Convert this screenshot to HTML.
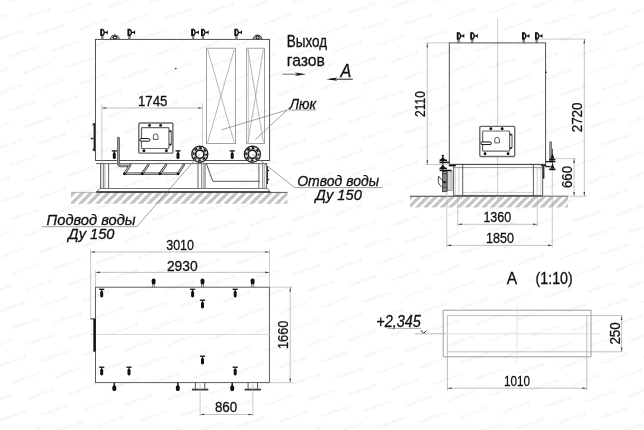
<!DOCTYPE html>
<html><head><meta charset="utf-8"><title>drawing</title>
<style>html,body{margin:0;padding:0;background:#fff;}svg{display:block;}body{font-family:"Liberation Sans",sans-serif;}</style></head>
<body>
<svg width="644" height="430" viewBox="0 0 644 430" style="will-change:transform" font-family="'Liberation Sans', sans-serif">
<rect width="644" height="430" fill="#fff"/>
<g font-size="4.6" fill="#ececec" text-anchor="middle">
<text transform="translate(-5.4 20.3) rotate(-20)" textLength="29" lengthAdjust="spacingAndGlyphs">kotel-kv.kz</text>
<text transform="translate(-4.7 74.6) rotate(-20)" textLength="29" lengthAdjust="spacingAndGlyphs">kotel-kv.kz</text>
<text transform="translate(-3.9 128.8) rotate(-20)" textLength="29" lengthAdjust="spacingAndGlyphs">kotel-kv.kz</text>
<text transform="translate(-17.5 166.8) rotate(-20)" textLength="29" lengthAdjust="spacingAndGlyphs">kotel-kv.kz</text>
<text transform="translate(-3.2 183.1) rotate(-20)" textLength="29" lengthAdjust="spacingAndGlyphs">kotel-kv.kz</text>
<text transform="translate(-16.8 221.1) rotate(-20)" textLength="29" lengthAdjust="spacingAndGlyphs">kotel-kv.kz</text>
<text transform="translate(-2.5 237.4) rotate(-20)" textLength="29" lengthAdjust="spacingAndGlyphs">kotel-kv.kz</text>
<text transform="translate(-16.0 275.4) rotate(-20)" textLength="29" lengthAdjust="spacingAndGlyphs">kotel-kv.kz</text>
<text transform="translate(-1.7 291.7) rotate(-20)" textLength="29" lengthAdjust="spacingAndGlyphs">kotel-kv.kz</text>
<text transform="translate(-15.3 329.7) rotate(-20)" textLength="29" lengthAdjust="spacingAndGlyphs">kotel-kv.kz</text>
<text transform="translate(-1.0 346.0) rotate(-20)" textLength="29" lengthAdjust="spacingAndGlyphs">kotel-kv.kz</text>
<text transform="translate(-14.5 384.0) rotate(-20)" textLength="29" lengthAdjust="spacingAndGlyphs">kotel-kv.kz</text>
<text transform="translate(-0.3 400.3) rotate(-20)" textLength="29" lengthAdjust="spacingAndGlyphs">kotel-kv.kz</text>
<text transform="translate(-13.7 438.3) rotate(-20)" textLength="29" lengthAdjust="spacingAndGlyphs">kotel-kv.kz</text>
<text transform="translate(22.7 -1.5) rotate(-20)" textLength="29" lengthAdjust="spacingAndGlyphs">kotel-kv.kz</text>
<text transform="translate(37.1 14.8) rotate(-20)" textLength="29" lengthAdjust="spacingAndGlyphs">kotel-kv.kz</text>
<text transform="translate(9.0 36.6) rotate(-20)" textLength="29" lengthAdjust="spacingAndGlyphs">kotel-kv.kz</text>
<text transform="translate(23.4 52.8) rotate(-20)" textLength="29" lengthAdjust="spacingAndGlyphs">kotel-kv.kz</text>
<text transform="translate(37.8 69.1) rotate(-20)" textLength="29" lengthAdjust="spacingAndGlyphs">kotel-kv.kz</text>
<text transform="translate(9.7 90.9) rotate(-20)" textLength="29" lengthAdjust="spacingAndGlyphs">kotel-kv.kz</text>
<text transform="translate(24.1 107.1) rotate(-20)" textLength="29" lengthAdjust="spacingAndGlyphs">kotel-kv.kz</text>
<text transform="translate(38.4 123.5) rotate(-20)" textLength="29" lengthAdjust="spacingAndGlyphs">kotel-kv.kz</text>
<text transform="translate(10.4 145.2) rotate(-20)" textLength="29" lengthAdjust="spacingAndGlyphs">kotel-kv.kz</text>
<text transform="translate(24.8 161.5) rotate(-20)" textLength="29" lengthAdjust="spacingAndGlyphs">kotel-kv.kz</text>
<text transform="translate(39.1 177.8) rotate(-20)" textLength="29" lengthAdjust="spacingAndGlyphs">kotel-kv.kz</text>
<text transform="translate(11.1 199.5) rotate(-20)" textLength="29" lengthAdjust="spacingAndGlyphs">kotel-kv.kz</text>
<text transform="translate(25.4 215.8) rotate(-20)" textLength="29" lengthAdjust="spacingAndGlyphs">kotel-kv.kz</text>
<text transform="translate(39.7 232.1) rotate(-20)" textLength="29" lengthAdjust="spacingAndGlyphs">kotel-kv.kz</text>
<text transform="translate(11.8 253.8) rotate(-20)" textLength="29" lengthAdjust="spacingAndGlyphs">kotel-kv.kz</text>
<text transform="translate(26.1 270.1) rotate(-20)" textLength="29" lengthAdjust="spacingAndGlyphs">kotel-kv.kz</text>
<text transform="translate(40.4 286.4) rotate(-20)" textLength="29" lengthAdjust="spacingAndGlyphs">kotel-kv.kz</text>
<text transform="translate(12.6 308.0) rotate(-20)" textLength="29" lengthAdjust="spacingAndGlyphs">kotel-kv.kz</text>
<text transform="translate(26.8 324.4) rotate(-20)" textLength="29" lengthAdjust="spacingAndGlyphs">kotel-kv.kz</text>
<text transform="translate(41.1 340.7) rotate(-20)" textLength="29" lengthAdjust="spacingAndGlyphs">kotel-kv.kz</text>
<text transform="translate(13.3 362.3) rotate(-20)" textLength="29" lengthAdjust="spacingAndGlyphs">kotel-kv.kz</text>
<text transform="translate(27.5 378.7) rotate(-20)" textLength="29" lengthAdjust="spacingAndGlyphs">kotel-kv.kz</text>
<text transform="translate(41.7 395.0) rotate(-20)" textLength="29" lengthAdjust="spacingAndGlyphs">kotel-kv.kz</text>
<text transform="translate(14.0 416.6) rotate(-20)" textLength="29" lengthAdjust="spacingAndGlyphs">kotel-kv.kz</text>
<text transform="translate(28.2 433.0) rotate(-20)" textLength="29" lengthAdjust="spacingAndGlyphs">kotel-kv.kz</text>
<text transform="translate(65.2 -6.9) rotate(-20)" textLength="29" lengthAdjust="spacingAndGlyphs">kotel-kv.kz</text>
<text transform="translate(79.6 9.4) rotate(-20)" textLength="29" lengthAdjust="spacingAndGlyphs">kotel-kv.kz</text>
<text transform="translate(51.5 31.1) rotate(-20)" textLength="29" lengthAdjust="spacingAndGlyphs">kotel-kv.kz</text>
<text transform="translate(65.8 47.4) rotate(-20)" textLength="29" lengthAdjust="spacingAndGlyphs">kotel-kv.kz</text>
<text transform="translate(80.2 63.7) rotate(-20)" textLength="29" lengthAdjust="spacingAndGlyphs">kotel-kv.kz</text>
<text transform="translate(52.1 85.4) rotate(-20)" textLength="29" lengthAdjust="spacingAndGlyphs">kotel-kv.kz</text>
<text transform="translate(66.4 101.7) rotate(-20)" textLength="29" lengthAdjust="spacingAndGlyphs">kotel-kv.kz</text>
<text transform="translate(80.7 118.1) rotate(-20)" textLength="29" lengthAdjust="spacingAndGlyphs">kotel-kv.kz</text>
<text transform="translate(52.7 139.8) rotate(-20)" textLength="29" lengthAdjust="spacingAndGlyphs">kotel-kv.kz</text>
<text transform="translate(67.0 156.1) rotate(-20)" textLength="29" lengthAdjust="spacingAndGlyphs">kotel-kv.kz</text>
<text transform="translate(81.3 172.4) rotate(-20)" textLength="29" lengthAdjust="spacingAndGlyphs">kotel-kv.kz</text>
<text transform="translate(53.4 194.1) rotate(-20)" textLength="29" lengthAdjust="spacingAndGlyphs">kotel-kv.kz</text>
<text transform="translate(67.7 210.4) rotate(-20)" textLength="29" lengthAdjust="spacingAndGlyphs">kotel-kv.kz</text>
<text transform="translate(81.9 226.7) rotate(-20)" textLength="29" lengthAdjust="spacingAndGlyphs">kotel-kv.kz</text>
<text transform="translate(54.0 248.4) rotate(-20)" textLength="29" lengthAdjust="spacingAndGlyphs">kotel-kv.kz</text>
<text transform="translate(68.3 264.7) rotate(-20)" textLength="29" lengthAdjust="spacingAndGlyphs">kotel-kv.kz</text>
<text transform="translate(82.5 281.1) rotate(-20)" textLength="29" lengthAdjust="spacingAndGlyphs">kotel-kv.kz</text>
<text transform="translate(54.7 302.7) rotate(-20)" textLength="29" lengthAdjust="spacingAndGlyphs">kotel-kv.kz</text>
<text transform="translate(68.9 319.1) rotate(-20)" textLength="29" lengthAdjust="spacingAndGlyphs">kotel-kv.kz</text>
<text transform="translate(83.1 335.4) rotate(-20)" textLength="29" lengthAdjust="spacingAndGlyphs">kotel-kv.kz</text>
<text transform="translate(55.3 357.1) rotate(-20)" textLength="29" lengthAdjust="spacingAndGlyphs">kotel-kv.kz</text>
<text transform="translate(69.5 373.4) rotate(-20)" textLength="29" lengthAdjust="spacingAndGlyphs">kotel-kv.kz</text>
<text transform="translate(83.7 389.8) rotate(-20)" textLength="29" lengthAdjust="spacingAndGlyphs">kotel-kv.kz</text>
<text transform="translate(55.9 411.4) rotate(-20)" textLength="29" lengthAdjust="spacingAndGlyphs">kotel-kv.kz</text>
<text transform="translate(70.1 427.7) rotate(-20)" textLength="29" lengthAdjust="spacingAndGlyphs">kotel-kv.kz</text>
<text transform="translate(122.0 3.9) rotate(-20)" textLength="29" lengthAdjust="spacingAndGlyphs">kotel-kv.kz</text>
<text transform="translate(93.9 25.7) rotate(-20)" textLength="29" lengthAdjust="spacingAndGlyphs">kotel-kv.kz</text>
<text transform="translate(108.2 42.0) rotate(-20)" textLength="29" lengthAdjust="spacingAndGlyphs">kotel-kv.kz</text>
<text transform="translate(122.6 58.3) rotate(-20)" textLength="29" lengthAdjust="spacingAndGlyphs">kotel-kv.kz</text>
<text transform="translate(94.5 80.0) rotate(-20)" textLength="29" lengthAdjust="spacingAndGlyphs">kotel-kv.kz</text>
<text transform="translate(108.8 96.3) rotate(-20)" textLength="29" lengthAdjust="spacingAndGlyphs">kotel-kv.kz</text>
<text transform="translate(123.1 112.7) rotate(-20)" textLength="29" lengthAdjust="spacingAndGlyphs">kotel-kv.kz</text>
<text transform="translate(95.1 134.4) rotate(-20)" textLength="29" lengthAdjust="spacingAndGlyphs">kotel-kv.kz</text>
<text transform="translate(109.3 150.7) rotate(-20)" textLength="29" lengthAdjust="spacingAndGlyphs">kotel-kv.kz</text>
<text transform="translate(123.6 167.0) rotate(-20)" textLength="29" lengthAdjust="spacingAndGlyphs">kotel-kv.kz</text>
<text transform="translate(95.6 188.7) rotate(-20)" textLength="29" lengthAdjust="spacingAndGlyphs">kotel-kv.kz</text>
<text transform="translate(109.9 205.1) rotate(-20)" textLength="29" lengthAdjust="spacingAndGlyphs">kotel-kv.kz</text>
<text transform="translate(124.1 221.4) rotate(-20)" textLength="29" lengthAdjust="spacingAndGlyphs">kotel-kv.kz</text>
<text transform="translate(96.2 243.1) rotate(-20)" textLength="29" lengthAdjust="spacingAndGlyphs">kotel-kv.kz</text>
<text transform="translate(110.4 259.4) rotate(-20)" textLength="29" lengthAdjust="spacingAndGlyphs">kotel-kv.kz</text>
<text transform="translate(124.7 275.8) rotate(-20)" textLength="29" lengthAdjust="spacingAndGlyphs">kotel-kv.kz</text>
<text transform="translate(96.8 297.4) rotate(-20)" textLength="29" lengthAdjust="spacingAndGlyphs">kotel-kv.kz</text>
<text transform="translate(111.0 313.8) rotate(-20)" textLength="29" lengthAdjust="spacingAndGlyphs">kotel-kv.kz</text>
<text transform="translate(125.2 330.1) rotate(-20)" textLength="29" lengthAdjust="spacingAndGlyphs">kotel-kv.kz</text>
<text transform="translate(97.3 351.8) rotate(-20)" textLength="29" lengthAdjust="spacingAndGlyphs">kotel-kv.kz</text>
<text transform="translate(111.5 368.1) rotate(-20)" textLength="29" lengthAdjust="spacingAndGlyphs">kotel-kv.kz</text>
<text transform="translate(125.7 384.5) rotate(-20)" textLength="29" lengthAdjust="spacingAndGlyphs">kotel-kv.kz</text>
<text transform="translate(97.9 406.1) rotate(-20)" textLength="29" lengthAdjust="spacingAndGlyphs">kotel-kv.kz</text>
<text transform="translate(112.1 422.5) rotate(-20)" textLength="29" lengthAdjust="spacingAndGlyphs">kotel-kv.kz</text>
<text transform="translate(126.2 438.9) rotate(-20)" textLength="29" lengthAdjust="spacingAndGlyphs">kotel-kv.kz</text>
<text transform="translate(164.5 -1.5) rotate(-20)" textLength="29" lengthAdjust="spacingAndGlyphs">kotel-kv.kz</text>
<text transform="translate(136.4 20.2) rotate(-20)" textLength="29" lengthAdjust="spacingAndGlyphs">kotel-kv.kz</text>
<text transform="translate(150.7 36.5) rotate(-20)" textLength="29" lengthAdjust="spacingAndGlyphs">kotel-kv.kz</text>
<text transform="translate(165.0 52.9) rotate(-20)" textLength="29" lengthAdjust="spacingAndGlyphs">kotel-kv.kz</text>
<text transform="translate(136.9 74.6) rotate(-20)" textLength="29" lengthAdjust="spacingAndGlyphs">kotel-kv.kz</text>
<text transform="translate(151.1 90.9) rotate(-20)" textLength="29" lengthAdjust="spacingAndGlyphs">kotel-kv.kz</text>
<text transform="translate(165.4 107.3) rotate(-20)" textLength="29" lengthAdjust="spacingAndGlyphs">kotel-kv.kz</text>
<text transform="translate(137.4 129.0) rotate(-20)" textLength="29" lengthAdjust="spacingAndGlyphs">kotel-kv.kz</text>
<text transform="translate(151.6 145.3) rotate(-20)" textLength="29" lengthAdjust="spacingAndGlyphs">kotel-kv.kz</text>
<text transform="translate(165.9 161.6) rotate(-20)" textLength="29" lengthAdjust="spacingAndGlyphs">kotel-kv.kz</text>
<text transform="translate(137.9 183.4) rotate(-20)" textLength="29" lengthAdjust="spacingAndGlyphs">kotel-kv.kz</text>
<text transform="translate(152.1 199.7) rotate(-20)" textLength="29" lengthAdjust="spacingAndGlyphs">kotel-kv.kz</text>
<text transform="translate(166.3 216.0) rotate(-20)" textLength="29" lengthAdjust="spacingAndGlyphs">kotel-kv.kz</text>
<text transform="translate(138.4 237.7) rotate(-20)" textLength="29" lengthAdjust="spacingAndGlyphs">kotel-kv.kz</text>
<text transform="translate(152.6 254.1) rotate(-20)" textLength="29" lengthAdjust="spacingAndGlyphs">kotel-kv.kz</text>
<text transform="translate(166.8 270.4) rotate(-20)" textLength="29" lengthAdjust="spacingAndGlyphs">kotel-kv.kz</text>
<text transform="translate(138.9 292.1) rotate(-20)" textLength="29" lengthAdjust="spacingAndGlyphs">kotel-kv.kz</text>
<text transform="translate(153.1 308.5) rotate(-20)" textLength="29" lengthAdjust="spacingAndGlyphs">kotel-kv.kz</text>
<text transform="translate(167.2 324.8) rotate(-20)" textLength="29" lengthAdjust="spacingAndGlyphs">kotel-kv.kz</text>
<text transform="translate(139.4 346.5) rotate(-20)" textLength="29" lengthAdjust="spacingAndGlyphs">kotel-kv.kz</text>
<text transform="translate(153.5 362.8) rotate(-20)" textLength="29" lengthAdjust="spacingAndGlyphs">kotel-kv.kz</text>
<text transform="translate(167.7 379.2) rotate(-20)" textLength="29" lengthAdjust="spacingAndGlyphs">kotel-kv.kz</text>
<text transform="translate(139.9 400.9) rotate(-20)" textLength="29" lengthAdjust="spacingAndGlyphs">kotel-kv.kz</text>
<text transform="translate(154.0 417.2) rotate(-20)" textLength="29" lengthAdjust="spacingAndGlyphs">kotel-kv.kz</text>
<text transform="translate(168.1 433.6) rotate(-20)" textLength="29" lengthAdjust="spacingAndGlyphs">kotel-kv.kz</text>
<text transform="translate(207.0 -7.0) rotate(-20)" textLength="29" lengthAdjust="spacingAndGlyphs">kotel-kv.kz</text>
<text transform="translate(178.8 14.8) rotate(-20)" textLength="29" lengthAdjust="spacingAndGlyphs">kotel-kv.kz</text>
<text transform="translate(193.1 31.1) rotate(-20)" textLength="29" lengthAdjust="spacingAndGlyphs">kotel-kv.kz</text>
<text transform="translate(207.4 47.4) rotate(-20)" textLength="29" lengthAdjust="spacingAndGlyphs">kotel-kv.kz</text>
<text transform="translate(179.2 69.2) rotate(-20)" textLength="29" lengthAdjust="spacingAndGlyphs">kotel-kv.kz</text>
<text transform="translate(193.5 85.5) rotate(-20)" textLength="29" lengthAdjust="spacingAndGlyphs">kotel-kv.kz</text>
<text transform="translate(207.7 101.9) rotate(-20)" textLength="29" lengthAdjust="spacingAndGlyphs">kotel-kv.kz</text>
<text transform="translate(179.7 123.6) rotate(-20)" textLength="29" lengthAdjust="spacingAndGlyphs">kotel-kv.kz</text>
<text transform="translate(193.9 139.9) rotate(-20)" textLength="29" lengthAdjust="spacingAndGlyphs">kotel-kv.kz</text>
<text transform="translate(208.1 156.3) rotate(-20)" textLength="29" lengthAdjust="spacingAndGlyphs">kotel-kv.kz</text>
<text transform="translate(180.1 178.0) rotate(-20)" textLength="29" lengthAdjust="spacingAndGlyphs">kotel-kv.kz</text>
<text transform="translate(194.3 194.3) rotate(-20)" textLength="29" lengthAdjust="spacingAndGlyphs">kotel-kv.kz</text>
<text transform="translate(208.5 210.7) rotate(-20)" textLength="29" lengthAdjust="spacingAndGlyphs">kotel-kv.kz</text>
<text transform="translate(180.5 232.4) rotate(-20)" textLength="29" lengthAdjust="spacingAndGlyphs">kotel-kv.kz</text>
<text transform="translate(194.7 248.7) rotate(-20)" textLength="29" lengthAdjust="spacingAndGlyphs">kotel-kv.kz</text>
<text transform="translate(208.9 265.1) rotate(-20)" textLength="29" lengthAdjust="spacingAndGlyphs">kotel-kv.kz</text>
<text transform="translate(181.0 286.8) rotate(-20)" textLength="29" lengthAdjust="spacingAndGlyphs">kotel-kv.kz</text>
<text transform="translate(195.1 303.2) rotate(-20)" textLength="29" lengthAdjust="spacingAndGlyphs">kotel-kv.kz</text>
<text transform="translate(209.3 319.5) rotate(-20)" textLength="29" lengthAdjust="spacingAndGlyphs">kotel-kv.kz</text>
<text transform="translate(181.4 341.2) rotate(-20)" textLength="29" lengthAdjust="spacingAndGlyphs">kotel-kv.kz</text>
<text transform="translate(195.5 357.6) rotate(-20)" textLength="29" lengthAdjust="spacingAndGlyphs">kotel-kv.kz</text>
<text transform="translate(209.7 373.9) rotate(-20)" textLength="29" lengthAdjust="spacingAndGlyphs">kotel-kv.kz</text>
<text transform="translate(181.8 395.6) rotate(-20)" textLength="29" lengthAdjust="spacingAndGlyphs">kotel-kv.kz</text>
<text transform="translate(195.9 412.0) rotate(-20)" textLength="29" lengthAdjust="spacingAndGlyphs">kotel-kv.kz</text>
<text transform="translate(210.0 428.4) rotate(-20)" textLength="29" lengthAdjust="spacingAndGlyphs">kotel-kv.kz</text>
<text transform="translate(221.3 9.3) rotate(-20)" textLength="29" lengthAdjust="spacingAndGlyphs">kotel-kv.kz</text>
<text transform="translate(235.5 25.7) rotate(-20)" textLength="29" lengthAdjust="spacingAndGlyphs">kotel-kv.kz</text>
<text transform="translate(249.8 42.0) rotate(-20)" textLength="29" lengthAdjust="spacingAndGlyphs">kotel-kv.kz</text>
<text transform="translate(221.6 63.8) rotate(-20)" textLength="29" lengthAdjust="spacingAndGlyphs">kotel-kv.kz</text>
<text transform="translate(235.9 80.1) rotate(-20)" textLength="29" lengthAdjust="spacingAndGlyphs">kotel-kv.kz</text>
<text transform="translate(250.1 96.5) rotate(-20)" textLength="29" lengthAdjust="spacingAndGlyphs">kotel-kv.kz</text>
<text transform="translate(222.0 118.2) rotate(-20)" textLength="29" lengthAdjust="spacingAndGlyphs">kotel-kv.kz</text>
<text transform="translate(236.2 134.5) rotate(-20)" textLength="29" lengthAdjust="spacingAndGlyphs">kotel-kv.kz</text>
<text transform="translate(250.4 150.9) rotate(-20)" textLength="29" lengthAdjust="spacingAndGlyphs">kotel-kv.kz</text>
<text transform="translate(222.3 172.6) rotate(-20)" textLength="29" lengthAdjust="spacingAndGlyphs">kotel-kv.kz</text>
<text transform="translate(236.5 189.0) rotate(-20)" textLength="29" lengthAdjust="spacingAndGlyphs">kotel-kv.kz</text>
<text transform="translate(250.7 205.3) rotate(-20)" textLength="29" lengthAdjust="spacingAndGlyphs">kotel-kv.kz</text>
<text transform="translate(222.7 227.1) rotate(-20)" textLength="29" lengthAdjust="spacingAndGlyphs">kotel-kv.kz</text>
<text transform="translate(236.9 243.4) rotate(-20)" textLength="29" lengthAdjust="spacingAndGlyphs">kotel-kv.kz</text>
<text transform="translate(251.0 259.8) rotate(-20)" textLength="29" lengthAdjust="spacingAndGlyphs">kotel-kv.kz</text>
<text transform="translate(223.1 281.5) rotate(-20)" textLength="29" lengthAdjust="spacingAndGlyphs">kotel-kv.kz</text>
<text transform="translate(237.2 297.9) rotate(-20)" textLength="29" lengthAdjust="spacingAndGlyphs">kotel-kv.kz</text>
<text transform="translate(251.3 314.2) rotate(-20)" textLength="29" lengthAdjust="spacingAndGlyphs">kotel-kv.kz</text>
<text transform="translate(223.4 335.9) rotate(-20)" textLength="29" lengthAdjust="spacingAndGlyphs">kotel-kv.kz</text>
<text transform="translate(237.5 352.3) rotate(-20)" textLength="29" lengthAdjust="spacingAndGlyphs">kotel-kv.kz</text>
<text transform="translate(251.6 368.7) rotate(-20)" textLength="29" lengthAdjust="spacingAndGlyphs">kotel-kv.kz</text>
<text transform="translate(223.8 390.3) rotate(-20)" textLength="29" lengthAdjust="spacingAndGlyphs">kotel-kv.kz</text>
<text transform="translate(237.9 406.7) rotate(-20)" textLength="29" lengthAdjust="spacingAndGlyphs">kotel-kv.kz</text>
<text transform="translate(252.0 423.1) rotate(-20)" textLength="29" lengthAdjust="spacingAndGlyphs">kotel-kv.kz</text>
<text transform="translate(263.7 3.9) rotate(-20)" textLength="29" lengthAdjust="spacingAndGlyphs">kotel-kv.kz</text>
<text transform="translate(277.9 20.2) rotate(-20)" textLength="29" lengthAdjust="spacingAndGlyphs">kotel-kv.kz</text>
<text transform="translate(292.2 36.6) rotate(-20)" textLength="29" lengthAdjust="spacingAndGlyphs">kotel-kv.kz</text>
<text transform="translate(264.0 58.3) rotate(-20)" textLength="29" lengthAdjust="spacingAndGlyphs">kotel-kv.kz</text>
<text transform="translate(278.2 74.7) rotate(-20)" textLength="29" lengthAdjust="spacingAndGlyphs">kotel-kv.kz</text>
<text transform="translate(292.4 91.1) rotate(-20)" textLength="29" lengthAdjust="spacingAndGlyphs">kotel-kv.kz</text>
<text transform="translate(264.3 112.8) rotate(-20)" textLength="29" lengthAdjust="spacingAndGlyphs">kotel-kv.kz</text>
<text transform="translate(278.5 129.2) rotate(-20)" textLength="29" lengthAdjust="spacingAndGlyphs">kotel-kv.kz</text>
<text transform="translate(292.7 145.5) rotate(-20)" textLength="29" lengthAdjust="spacingAndGlyphs">kotel-kv.kz</text>
<text transform="translate(264.6 167.3) rotate(-20)" textLength="29" lengthAdjust="spacingAndGlyphs">kotel-kv.kz</text>
<text transform="translate(278.7 183.6) rotate(-20)" textLength="29" lengthAdjust="spacingAndGlyphs">kotel-kv.kz</text>
<text transform="translate(292.9 200.0) rotate(-20)" textLength="29" lengthAdjust="spacingAndGlyphs">kotel-kv.kz</text>
<text transform="translate(264.9 221.7) rotate(-20)" textLength="29" lengthAdjust="spacingAndGlyphs">kotel-kv.kz</text>
<text transform="translate(279.0 238.1) rotate(-20)" textLength="29" lengthAdjust="spacingAndGlyphs">kotel-kv.kz</text>
<text transform="translate(293.1 254.5) rotate(-20)" textLength="29" lengthAdjust="spacingAndGlyphs">kotel-kv.kz</text>
<text transform="translate(265.2 276.2) rotate(-20)" textLength="29" lengthAdjust="spacingAndGlyphs">kotel-kv.kz</text>
<text transform="translate(279.3 292.5) rotate(-20)" textLength="29" lengthAdjust="spacingAndGlyphs">kotel-kv.kz</text>
<text transform="translate(293.4 308.9) rotate(-20)" textLength="29" lengthAdjust="spacingAndGlyphs">kotel-kv.kz</text>
<text transform="translate(265.5 330.6) rotate(-20)" textLength="29" lengthAdjust="spacingAndGlyphs">kotel-kv.kz</text>
<text transform="translate(279.5 347.0) rotate(-20)" textLength="29" lengthAdjust="spacingAndGlyphs">kotel-kv.kz</text>
<text transform="translate(293.6 363.4) rotate(-20)" textLength="29" lengthAdjust="spacingAndGlyphs">kotel-kv.kz</text>
<text transform="translate(265.7 385.1) rotate(-20)" textLength="29" lengthAdjust="spacingAndGlyphs">kotel-kv.kz</text>
<text transform="translate(279.8 401.5) rotate(-20)" textLength="29" lengthAdjust="spacingAndGlyphs">kotel-kv.kz</text>
<text transform="translate(293.9 417.9) rotate(-20)" textLength="29" lengthAdjust="spacingAndGlyphs">kotel-kv.kz</text>
<text transform="translate(266.0 439.5) rotate(-20)" textLength="29" lengthAdjust="spacingAndGlyphs">kotel-kv.kz</text>
<text transform="translate(306.2 -1.5) rotate(-20)" textLength="29" lengthAdjust="spacingAndGlyphs">kotel-kv.kz</text>
<text transform="translate(320.4 14.8) rotate(-20)" textLength="29" lengthAdjust="spacingAndGlyphs">kotel-kv.kz</text>
<text transform="translate(334.6 31.2) rotate(-20)" textLength="29" lengthAdjust="spacingAndGlyphs">kotel-kv.kz</text>
<text transform="translate(306.4 52.9) rotate(-20)" textLength="29" lengthAdjust="spacingAndGlyphs">kotel-kv.kz</text>
<text transform="translate(320.6 69.3) rotate(-20)" textLength="29" lengthAdjust="spacingAndGlyphs">kotel-kv.kz</text>
<text transform="translate(334.7 85.7) rotate(-20)" textLength="29" lengthAdjust="spacingAndGlyphs">kotel-kv.kz</text>
<text transform="translate(306.6 107.4) rotate(-20)" textLength="29" lengthAdjust="spacingAndGlyphs">kotel-kv.kz</text>
<text transform="translate(320.8 123.8) rotate(-20)" textLength="29" lengthAdjust="spacingAndGlyphs">kotel-kv.kz</text>
<text transform="translate(334.9 140.1) rotate(-20)" textLength="29" lengthAdjust="spacingAndGlyphs">kotel-kv.kz</text>
<text transform="translate(306.8 161.9) rotate(-20)" textLength="29" lengthAdjust="spacingAndGlyphs">kotel-kv.kz</text>
<text transform="translate(321.0 178.3) rotate(-20)" textLength="29" lengthAdjust="spacingAndGlyphs">kotel-kv.kz</text>
<text transform="translate(335.1 194.6) rotate(-20)" textLength="29" lengthAdjust="spacingAndGlyphs">kotel-kv.kz</text>
<text transform="translate(307.0 216.4) rotate(-20)" textLength="29" lengthAdjust="spacingAndGlyphs">kotel-kv.kz</text>
<text transform="translate(321.2 232.8) rotate(-20)" textLength="29" lengthAdjust="spacingAndGlyphs">kotel-kv.kz</text>
<text transform="translate(335.3 249.1) rotate(-20)" textLength="29" lengthAdjust="spacingAndGlyphs">kotel-kv.kz</text>
<text transform="translate(307.3 270.8) rotate(-20)" textLength="29" lengthAdjust="spacingAndGlyphs">kotel-kv.kz</text>
<text transform="translate(321.4 287.2) rotate(-20)" textLength="29" lengthAdjust="spacingAndGlyphs">kotel-kv.kz</text>
<text transform="translate(335.4 303.6) rotate(-20)" textLength="29" lengthAdjust="spacingAndGlyphs">kotel-kv.kz</text>
<text transform="translate(307.5 325.3) rotate(-20)" textLength="29" lengthAdjust="spacingAndGlyphs">kotel-kv.kz</text>
<text transform="translate(321.6 341.7) rotate(-20)" textLength="29" lengthAdjust="spacingAndGlyphs">kotel-kv.kz</text>
<text transform="translate(335.6 358.1) rotate(-20)" textLength="29" lengthAdjust="spacingAndGlyphs">kotel-kv.kz</text>
<text transform="translate(307.7 379.8) rotate(-20)" textLength="29" lengthAdjust="spacingAndGlyphs">kotel-kv.kz</text>
<text transform="translate(321.8 396.2) rotate(-20)" textLength="29" lengthAdjust="spacingAndGlyphs">kotel-kv.kz</text>
<text transform="translate(335.8 412.6) rotate(-20)" textLength="29" lengthAdjust="spacingAndGlyphs">kotel-kv.kz</text>
<text transform="translate(307.9 434.3) rotate(-20)" textLength="29" lengthAdjust="spacingAndGlyphs">kotel-kv.kz</text>
<text transform="translate(348.6 -7.0) rotate(-20)" textLength="29" lengthAdjust="spacingAndGlyphs">kotel-kv.kz</text>
<text transform="translate(362.8 9.4) rotate(-20)" textLength="29" lengthAdjust="spacingAndGlyphs">kotel-kv.kz</text>
<text transform="translate(377.0 25.7) rotate(-20)" textLength="29" lengthAdjust="spacingAndGlyphs">kotel-kv.kz</text>
<text transform="translate(348.8 47.5) rotate(-20)" textLength="29" lengthAdjust="spacingAndGlyphs">kotel-kv.kz</text>
<text transform="translate(362.9 63.9) rotate(-20)" textLength="29" lengthAdjust="spacingAndGlyphs">kotel-kv.kz</text>
<text transform="translate(377.1 80.3) rotate(-20)" textLength="29" lengthAdjust="spacingAndGlyphs">kotel-kv.kz</text>
<text transform="translate(348.9 102.0) rotate(-20)" textLength="29" lengthAdjust="spacingAndGlyphs">kotel-kv.kz</text>
<text transform="translate(363.1 118.4) rotate(-20)" textLength="29" lengthAdjust="spacingAndGlyphs">kotel-kv.kz</text>
<text transform="translate(377.2 134.8) rotate(-20)" textLength="29" lengthAdjust="spacingAndGlyphs">kotel-kv.kz</text>
<text transform="translate(349.1 156.5) rotate(-20)" textLength="29" lengthAdjust="spacingAndGlyphs">kotel-kv.kz</text>
<text transform="translate(363.2 172.9) rotate(-20)" textLength="29" lengthAdjust="spacingAndGlyphs">kotel-kv.kz</text>
<text transform="translate(377.3 189.3) rotate(-20)" textLength="29" lengthAdjust="spacingAndGlyphs">kotel-kv.kz</text>
<text transform="translate(349.2 211.0) rotate(-20)" textLength="29" lengthAdjust="spacingAndGlyphs">kotel-kv.kz</text>
<text transform="translate(363.3 227.4) rotate(-20)" textLength="29" lengthAdjust="spacingAndGlyphs">kotel-kv.kz</text>
<text transform="translate(377.4 243.8) rotate(-20)" textLength="29" lengthAdjust="spacingAndGlyphs">kotel-kv.kz</text>
<text transform="translate(349.4 265.5) rotate(-20)" textLength="29" lengthAdjust="spacingAndGlyphs">kotel-kv.kz</text>
<text transform="translate(363.4 281.9) rotate(-20)" textLength="29" lengthAdjust="spacingAndGlyphs">kotel-kv.kz</text>
<text transform="translate(377.5 298.3) rotate(-20)" textLength="29" lengthAdjust="spacingAndGlyphs">kotel-kv.kz</text>
<text transform="translate(349.5 320.0) rotate(-20)" textLength="29" lengthAdjust="spacingAndGlyphs">kotel-kv.kz</text>
<text transform="translate(363.6 336.4) rotate(-20)" textLength="29" lengthAdjust="spacingAndGlyphs">kotel-kv.kz</text>
<text transform="translate(377.6 352.9) rotate(-20)" textLength="29" lengthAdjust="spacingAndGlyphs">kotel-kv.kz</text>
<text transform="translate(349.7 374.5) rotate(-20)" textLength="29" lengthAdjust="spacingAndGlyphs">kotel-kv.kz</text>
<text transform="translate(363.7 391.0) rotate(-20)" textLength="29" lengthAdjust="spacingAndGlyphs">kotel-kv.kz</text>
<text transform="translate(377.7 407.4) rotate(-20)" textLength="29" lengthAdjust="spacingAndGlyphs">kotel-kv.kz</text>
<text transform="translate(349.8 429.1) rotate(-20)" textLength="29" lengthAdjust="spacingAndGlyphs">kotel-kv.kz</text>
<text transform="translate(405.2 3.9) rotate(-20)" textLength="29" lengthAdjust="spacingAndGlyphs">kotel-kv.kz</text>
<text transform="translate(419.4 20.3) rotate(-20)" textLength="29" lengthAdjust="spacingAndGlyphs">kotel-kv.kz</text>
<text transform="translate(391.1 42.1) rotate(-20)" textLength="29" lengthAdjust="spacingAndGlyphs">kotel-kv.kz</text>
<text transform="translate(405.3 58.5) rotate(-20)" textLength="29" lengthAdjust="spacingAndGlyphs">kotel-kv.kz</text>
<text transform="translate(419.4 74.9) rotate(-20)" textLength="29" lengthAdjust="spacingAndGlyphs">kotel-kv.kz</text>
<text transform="translate(391.2 96.6) rotate(-20)" textLength="29" lengthAdjust="spacingAndGlyphs">kotel-kv.kz</text>
<text transform="translate(405.3 113.0) rotate(-20)" textLength="29" lengthAdjust="spacingAndGlyphs">kotel-kv.kz</text>
<text transform="translate(419.4 129.4) rotate(-20)" textLength="29" lengthAdjust="spacingAndGlyphs">kotel-kv.kz</text>
<text transform="translate(391.3 151.2) rotate(-20)" textLength="29" lengthAdjust="spacingAndGlyphs">kotel-kv.kz</text>
<text transform="translate(405.4 167.6) rotate(-20)" textLength="29" lengthAdjust="spacingAndGlyphs">kotel-kv.kz</text>
<text transform="translate(419.5 183.9) rotate(-20)" textLength="29" lengthAdjust="spacingAndGlyphs">kotel-kv.kz</text>
<text transform="translate(391.4 205.7) rotate(-20)" textLength="29" lengthAdjust="spacingAndGlyphs">kotel-kv.kz</text>
<text transform="translate(405.5 222.1) rotate(-20)" textLength="29" lengthAdjust="spacingAndGlyphs">kotel-kv.kz</text>
<text transform="translate(419.5 238.5) rotate(-20)" textLength="29" lengthAdjust="spacingAndGlyphs">kotel-kv.kz</text>
<text transform="translate(391.5 260.2) rotate(-20)" textLength="29" lengthAdjust="spacingAndGlyphs">kotel-kv.kz</text>
<text transform="translate(405.5 276.6) rotate(-20)" textLength="29" lengthAdjust="spacingAndGlyphs">kotel-kv.kz</text>
<text transform="translate(419.5 293.0) rotate(-20)" textLength="29" lengthAdjust="spacingAndGlyphs">kotel-kv.kz</text>
<text transform="translate(391.5 314.8) rotate(-20)" textLength="29" lengthAdjust="spacingAndGlyphs">kotel-kv.kz</text>
<text transform="translate(405.6 331.2) rotate(-20)" textLength="29" lengthAdjust="spacingAndGlyphs">kotel-kv.kz</text>
<text transform="translate(419.6 347.6) rotate(-20)" textLength="29" lengthAdjust="spacingAndGlyphs">kotel-kv.kz</text>
<text transform="translate(391.6 369.3) rotate(-20)" textLength="29" lengthAdjust="spacingAndGlyphs">kotel-kv.kz</text>
<text transform="translate(405.6 385.7) rotate(-20)" textLength="29" lengthAdjust="spacingAndGlyphs">kotel-kv.kz</text>
<text transform="translate(419.6 402.1) rotate(-20)" textLength="29" lengthAdjust="spacingAndGlyphs">kotel-kv.kz</text>
<text transform="translate(391.7 423.8) rotate(-20)" textLength="29" lengthAdjust="spacingAndGlyphs">kotel-kv.kz</text>
<text transform="translate(447.7 -1.5) rotate(-20)" textLength="29" lengthAdjust="spacingAndGlyphs">kotel-kv.kz</text>
<text transform="translate(461.8 14.9) rotate(-20)" textLength="29" lengthAdjust="spacingAndGlyphs">kotel-kv.kz</text>
<text transform="translate(433.5 36.7) rotate(-20)" textLength="29" lengthAdjust="spacingAndGlyphs">kotel-kv.kz</text>
<text transform="translate(447.6 53.1) rotate(-20)" textLength="29" lengthAdjust="spacingAndGlyphs">kotel-kv.kz</text>
<text transform="translate(461.7 69.5) rotate(-20)" textLength="29" lengthAdjust="spacingAndGlyphs">kotel-kv.kz</text>
<text transform="translate(433.5 91.2) rotate(-20)" textLength="29" lengthAdjust="spacingAndGlyphs">kotel-kv.kz</text>
<text transform="translate(447.6 107.6) rotate(-20)" textLength="29" lengthAdjust="spacingAndGlyphs">kotel-kv.kz</text>
<text transform="translate(461.7 124.0) rotate(-20)" textLength="29" lengthAdjust="spacingAndGlyphs">kotel-kv.kz</text>
<text transform="translate(433.5 145.8) rotate(-20)" textLength="29" lengthAdjust="spacingAndGlyphs">kotel-kv.kz</text>
<text transform="translate(447.6 162.2) rotate(-20)" textLength="29" lengthAdjust="spacingAndGlyphs">kotel-kv.kz</text>
<text transform="translate(461.7 178.6) rotate(-20)" textLength="29" lengthAdjust="spacingAndGlyphs">kotel-kv.kz</text>
<text transform="translate(433.6 200.3) rotate(-20)" textLength="29" lengthAdjust="spacingAndGlyphs">kotel-kv.kz</text>
<text transform="translate(447.6 216.8) rotate(-20)" textLength="29" lengthAdjust="spacingAndGlyphs">kotel-kv.kz</text>
<text transform="translate(461.6 233.2) rotate(-20)" textLength="29" lengthAdjust="spacingAndGlyphs">kotel-kv.kz</text>
<text transform="translate(433.6 254.9) rotate(-20)" textLength="29" lengthAdjust="spacingAndGlyphs">kotel-kv.kz</text>
<text transform="translate(447.6 271.3) rotate(-20)" textLength="29" lengthAdjust="spacingAndGlyphs">kotel-kv.kz</text>
<text transform="translate(461.6 287.7) rotate(-20)" textLength="29" lengthAdjust="spacingAndGlyphs">kotel-kv.kz</text>
<text transform="translate(433.6 309.5) rotate(-20)" textLength="29" lengthAdjust="spacingAndGlyphs">kotel-kv.kz</text>
<text transform="translate(447.6 325.9) rotate(-20)" textLength="29" lengthAdjust="spacingAndGlyphs">kotel-kv.kz</text>
<text transform="translate(461.6 342.3) rotate(-20)" textLength="29" lengthAdjust="spacingAndGlyphs">kotel-kv.kz</text>
<text transform="translate(433.6 364.0) rotate(-20)" textLength="29" lengthAdjust="spacingAndGlyphs">kotel-kv.kz</text>
<text transform="translate(447.6 380.5) rotate(-20)" textLength="29" lengthAdjust="spacingAndGlyphs">kotel-kv.kz</text>
<text transform="translate(461.5 396.9) rotate(-20)" textLength="29" lengthAdjust="spacingAndGlyphs">kotel-kv.kz</text>
<text transform="translate(433.6 418.6) rotate(-20)" textLength="29" lengthAdjust="spacingAndGlyphs">kotel-kv.kz</text>
<text transform="translate(447.5 435.0) rotate(-20)" textLength="29" lengthAdjust="spacingAndGlyphs">kotel-kv.kz</text>
<text transform="translate(490.1 -6.9) rotate(-20)" textLength="29" lengthAdjust="spacingAndGlyphs">kotel-kv.kz</text>
<text transform="translate(504.2 9.5) rotate(-20)" textLength="29" lengthAdjust="spacingAndGlyphs">kotel-kv.kz</text>
<text transform="translate(475.9 31.3) rotate(-20)" textLength="29" lengthAdjust="spacingAndGlyphs">kotel-kv.kz</text>
<text transform="translate(490.0 47.7) rotate(-20)" textLength="29" lengthAdjust="spacingAndGlyphs">kotel-kv.kz</text>
<text transform="translate(504.1 64.1) rotate(-20)" textLength="29" lengthAdjust="spacingAndGlyphs">kotel-kv.kz</text>
<text transform="translate(475.8 85.8) rotate(-20)" textLength="29" lengthAdjust="spacingAndGlyphs">kotel-kv.kz</text>
<text transform="translate(489.9 102.2) rotate(-20)" textLength="29" lengthAdjust="spacingAndGlyphs">kotel-kv.kz</text>
<text transform="translate(504.0 118.7) rotate(-20)" textLength="29" lengthAdjust="spacingAndGlyphs">kotel-kv.kz</text>
<text transform="translate(475.8 140.4) rotate(-20)" textLength="29" lengthAdjust="spacingAndGlyphs">kotel-kv.kz</text>
<text transform="translate(489.8 156.8) rotate(-20)" textLength="29" lengthAdjust="spacingAndGlyphs">kotel-kv.kz</text>
<text transform="translate(503.9 173.3) rotate(-20)" textLength="29" lengthAdjust="spacingAndGlyphs">kotel-kv.kz</text>
<text transform="translate(475.7 195.0) rotate(-20)" textLength="29" lengthAdjust="spacingAndGlyphs">kotel-kv.kz</text>
<text transform="translate(489.7 211.4) rotate(-20)" textLength="29" lengthAdjust="spacingAndGlyphs">kotel-kv.kz</text>
<text transform="translate(503.8 227.8) rotate(-20)" textLength="29" lengthAdjust="spacingAndGlyphs">kotel-kv.kz</text>
<text transform="translate(475.7 249.6) rotate(-20)" textLength="29" lengthAdjust="spacingAndGlyphs">kotel-kv.kz</text>
<text transform="translate(489.7 266.0) rotate(-20)" textLength="29" lengthAdjust="spacingAndGlyphs">kotel-kv.kz</text>
<text transform="translate(503.7 282.4) rotate(-20)" textLength="29" lengthAdjust="spacingAndGlyphs">kotel-kv.kz</text>
<text transform="translate(475.6 304.2) rotate(-20)" textLength="29" lengthAdjust="spacingAndGlyphs">kotel-kv.kz</text>
<text transform="translate(489.6 320.6) rotate(-20)" textLength="29" lengthAdjust="spacingAndGlyphs">kotel-kv.kz</text>
<text transform="translate(503.5 337.0) rotate(-20)" textLength="29" lengthAdjust="spacingAndGlyphs">kotel-kv.kz</text>
<text transform="translate(475.5 358.8) rotate(-20)" textLength="29" lengthAdjust="spacingAndGlyphs">kotel-kv.kz</text>
<text transform="translate(489.5 375.2) rotate(-20)" textLength="29" lengthAdjust="spacingAndGlyphs">kotel-kv.kz</text>
<text transform="translate(503.4 391.6) rotate(-20)" textLength="29" lengthAdjust="spacingAndGlyphs">kotel-kv.kz</text>
<text transform="translate(475.5 413.3) rotate(-20)" textLength="29" lengthAdjust="spacingAndGlyphs">kotel-kv.kz</text>
<text transform="translate(489.4 429.8) rotate(-20)" textLength="29" lengthAdjust="spacingAndGlyphs">kotel-kv.kz</text>
<text transform="translate(546.6 4.0) rotate(-20)" textLength="29" lengthAdjust="spacingAndGlyphs">kotel-kv.kz</text>
<text transform="translate(518.3 25.8) rotate(-20)" textLength="29" lengthAdjust="spacingAndGlyphs">kotel-kv.kz</text>
<text transform="translate(532.4 42.2) rotate(-20)" textLength="29" lengthAdjust="spacingAndGlyphs">kotel-kv.kz</text>
<text transform="translate(546.4 58.7) rotate(-20)" textLength="29" lengthAdjust="spacingAndGlyphs">kotel-kv.kz</text>
<text transform="translate(518.2 80.5) rotate(-20)" textLength="29" lengthAdjust="spacingAndGlyphs">kotel-kv.kz</text>
<text transform="translate(532.2 96.9) rotate(-20)" textLength="29" lengthAdjust="spacingAndGlyphs">kotel-kv.kz</text>
<text transform="translate(546.2 113.3) rotate(-20)" textLength="29" lengthAdjust="spacingAndGlyphs">kotel-kv.kz</text>
<text transform="translate(518.0 135.1) rotate(-20)" textLength="29" lengthAdjust="spacingAndGlyphs">kotel-kv.kz</text>
<text transform="translate(532.0 151.5) rotate(-20)" textLength="29" lengthAdjust="spacingAndGlyphs">kotel-kv.kz</text>
<text transform="translate(546.1 167.9) rotate(-20)" textLength="29" lengthAdjust="spacingAndGlyphs">kotel-kv.kz</text>
<text transform="translate(517.9 189.7) rotate(-20)" textLength="29" lengthAdjust="spacingAndGlyphs">kotel-kv.kz</text>
<text transform="translate(531.9 206.1) rotate(-20)" textLength="29" lengthAdjust="spacingAndGlyphs">kotel-kv.kz</text>
<text transform="translate(545.9 222.5) rotate(-20)" textLength="29" lengthAdjust="spacingAndGlyphs">kotel-kv.kz</text>
<text transform="translate(517.8 244.3) rotate(-20)" textLength="29" lengthAdjust="spacingAndGlyphs">kotel-kv.kz</text>
<text transform="translate(531.7 260.7) rotate(-20)" textLength="29" lengthAdjust="spacingAndGlyphs">kotel-kv.kz</text>
<text transform="translate(545.7 277.2) rotate(-20)" textLength="29" lengthAdjust="spacingAndGlyphs">kotel-kv.kz</text>
<text transform="translate(517.6 298.9) rotate(-20)" textLength="29" lengthAdjust="spacingAndGlyphs">kotel-kv.kz</text>
<text transform="translate(531.6 315.3) rotate(-20)" textLength="29" lengthAdjust="spacingAndGlyphs">kotel-kv.kz</text>
<text transform="translate(545.5 331.8) rotate(-20)" textLength="29" lengthAdjust="spacingAndGlyphs">kotel-kv.kz</text>
<text transform="translate(517.5 353.5) rotate(-20)" textLength="29" lengthAdjust="spacingAndGlyphs">kotel-kv.kz</text>
<text transform="translate(531.4 369.9) rotate(-20)" textLength="29" lengthAdjust="spacingAndGlyphs">kotel-kv.kz</text>
<text transform="translate(545.4 386.4) rotate(-20)" textLength="29" lengthAdjust="spacingAndGlyphs">kotel-kv.kz</text>
<text transform="translate(517.4 408.1) rotate(-20)" textLength="29" lengthAdjust="spacingAndGlyphs">kotel-kv.kz</text>
<text transform="translate(531.3 424.6) rotate(-20)" textLength="29" lengthAdjust="spacingAndGlyphs">kotel-kv.kz</text>
<text transform="translate(589.0 -1.4) rotate(-20)" textLength="29" lengthAdjust="spacingAndGlyphs">kotel-kv.kz</text>
<text transform="translate(560.7 20.4) rotate(-20)" textLength="29" lengthAdjust="spacingAndGlyphs">kotel-kv.kz</text>
<text transform="translate(574.7 36.8) rotate(-20)" textLength="29" lengthAdjust="spacingAndGlyphs">kotel-kv.kz</text>
<text transform="translate(588.7 53.3) rotate(-20)" textLength="29" lengthAdjust="spacingAndGlyphs">kotel-kv.kz</text>
<text transform="translate(560.5 75.1) rotate(-20)" textLength="29" lengthAdjust="spacingAndGlyphs">kotel-kv.kz</text>
<text transform="translate(574.5 91.5) rotate(-20)" textLength="29" lengthAdjust="spacingAndGlyphs">kotel-kv.kz</text>
<text transform="translate(588.5 107.9) rotate(-20)" textLength="29" lengthAdjust="spacingAndGlyphs">kotel-kv.kz</text>
<text transform="translate(560.3 129.7) rotate(-20)" textLength="29" lengthAdjust="spacingAndGlyphs">kotel-kv.kz</text>
<text transform="translate(574.3 146.1) rotate(-20)" textLength="29" lengthAdjust="spacingAndGlyphs">kotel-kv.kz</text>
<text transform="translate(588.3 162.6) rotate(-20)" textLength="29" lengthAdjust="spacingAndGlyphs">kotel-kv.kz</text>
<text transform="translate(560.1 184.3) rotate(-20)" textLength="29" lengthAdjust="spacingAndGlyphs">kotel-kv.kz</text>
<text transform="translate(574.0 200.8) rotate(-20)" textLength="29" lengthAdjust="spacingAndGlyphs">kotel-kv.kz</text>
<text transform="translate(588.0 217.2) rotate(-20)" textLength="29" lengthAdjust="spacingAndGlyphs">kotel-kv.kz</text>
<text transform="translate(559.9 239.0) rotate(-20)" textLength="29" lengthAdjust="spacingAndGlyphs">kotel-kv.kz</text>
<text transform="translate(573.8 255.4) rotate(-20)" textLength="29" lengthAdjust="spacingAndGlyphs">kotel-kv.kz</text>
<text transform="translate(587.8 271.9) rotate(-20)" textLength="29" lengthAdjust="spacingAndGlyphs">kotel-kv.kz</text>
<text transform="translate(559.7 293.6) rotate(-20)" textLength="29" lengthAdjust="spacingAndGlyphs">kotel-kv.kz</text>
<text transform="translate(573.6 310.0) rotate(-20)" textLength="29" lengthAdjust="spacingAndGlyphs">kotel-kv.kz</text>
<text transform="translate(587.5 326.5) rotate(-20)" textLength="29" lengthAdjust="spacingAndGlyphs">kotel-kv.kz</text>
<text transform="translate(559.5 348.2) rotate(-20)" textLength="29" lengthAdjust="spacingAndGlyphs">kotel-kv.kz</text>
<text transform="translate(573.4 364.7) rotate(-20)" textLength="29" lengthAdjust="spacingAndGlyphs">kotel-kv.kz</text>
<text transform="translate(587.3 381.2) rotate(-20)" textLength="29" lengthAdjust="spacingAndGlyphs">kotel-kv.kz</text>
<text transform="translate(559.3 402.9) rotate(-20)" textLength="29" lengthAdjust="spacingAndGlyphs">kotel-kv.kz</text>
<text transform="translate(573.1 419.3) rotate(-20)" textLength="29" lengthAdjust="spacingAndGlyphs">kotel-kv.kz</text>
<text transform="translate(587.0 435.8) rotate(-20)" textLength="29" lengthAdjust="spacingAndGlyphs">kotel-kv.kz</text>
<text transform="translate(631.4 -6.8) rotate(-20)" textLength="29" lengthAdjust="spacingAndGlyphs">kotel-kv.kz</text>
<text transform="translate(603.0 15.0) rotate(-20)" textLength="29" lengthAdjust="spacingAndGlyphs">kotel-kv.kz</text>
<text transform="translate(617.1 31.4) rotate(-20)" textLength="29" lengthAdjust="spacingAndGlyphs">kotel-kv.kz</text>
<text transform="translate(631.1 47.9) rotate(-20)" textLength="29" lengthAdjust="spacingAndGlyphs">kotel-kv.kz</text>
<text transform="translate(602.8 69.7) rotate(-20)" textLength="29" lengthAdjust="spacingAndGlyphs">kotel-kv.kz</text>
<text transform="translate(616.8 86.1) rotate(-20)" textLength="29" lengthAdjust="spacingAndGlyphs">kotel-kv.kz</text>
<text transform="translate(630.8 102.5) rotate(-20)" textLength="29" lengthAdjust="spacingAndGlyphs">kotel-kv.kz</text>
<text transform="translate(602.5 124.3) rotate(-20)" textLength="29" lengthAdjust="spacingAndGlyphs">kotel-kv.kz</text>
<text transform="translate(616.5 140.8) rotate(-20)" textLength="29" lengthAdjust="spacingAndGlyphs">kotel-kv.kz</text>
<text transform="translate(630.4 157.2) rotate(-20)" textLength="29" lengthAdjust="spacingAndGlyphs">kotel-kv.kz</text>
<text transform="translate(602.2 179.0) rotate(-20)" textLength="29" lengthAdjust="spacingAndGlyphs">kotel-kv.kz</text>
<text transform="translate(616.2 195.4) rotate(-20)" textLength="29" lengthAdjust="spacingAndGlyphs">kotel-kv.kz</text>
<text transform="translate(630.1 211.9) rotate(-20)" textLength="29" lengthAdjust="spacingAndGlyphs">kotel-kv.kz</text>
<text transform="translate(602.0 233.6) rotate(-20)" textLength="29" lengthAdjust="spacingAndGlyphs">kotel-kv.kz</text>
<text transform="translate(615.9 250.1) rotate(-20)" textLength="29" lengthAdjust="spacingAndGlyphs">kotel-kv.kz</text>
<text transform="translate(629.8 266.6) rotate(-20)" textLength="29" lengthAdjust="spacingAndGlyphs">kotel-kv.kz</text>
<text transform="translate(601.7 288.3) rotate(-20)" textLength="29" lengthAdjust="spacingAndGlyphs">kotel-kv.kz</text>
<text transform="translate(615.6 304.8) rotate(-20)" textLength="29" lengthAdjust="spacingAndGlyphs">kotel-kv.kz</text>
<text transform="translate(629.5 321.2) rotate(-20)" textLength="29" lengthAdjust="spacingAndGlyphs">kotel-kv.kz</text>
<text transform="translate(601.4 343.0) rotate(-20)" textLength="29" lengthAdjust="spacingAndGlyphs">kotel-kv.kz</text>
<text transform="translate(615.3 359.4) rotate(-20)" textLength="29" lengthAdjust="spacingAndGlyphs">kotel-kv.kz</text>
<text transform="translate(629.2 375.9) rotate(-20)" textLength="29" lengthAdjust="spacingAndGlyphs">kotel-kv.kz</text>
<text transform="translate(601.2 397.6) rotate(-20)" textLength="29" lengthAdjust="spacingAndGlyphs">kotel-kv.kz</text>
<text transform="translate(615.0 414.1) rotate(-20)" textLength="29" lengthAdjust="spacingAndGlyphs">kotel-kv.kz</text>
<text transform="translate(628.9 430.6) rotate(-20)" textLength="29" lengthAdjust="spacingAndGlyphs">kotel-kv.kz</text>
<text transform="translate(645.4 9.6) rotate(-20)" textLength="29" lengthAdjust="spacingAndGlyphs">kotel-kv.kz</text>
<text transform="translate(659.4 26.0) rotate(-20)" textLength="29" lengthAdjust="spacingAndGlyphs">kotel-kv.kz</text>
<text transform="translate(645.1 64.3) rotate(-20)" textLength="29" lengthAdjust="spacingAndGlyphs">kotel-kv.kz</text>
<text transform="translate(659.1 80.7) rotate(-20)" textLength="29" lengthAdjust="spacingAndGlyphs">kotel-kv.kz</text>
<text transform="translate(644.7 119.0) rotate(-20)" textLength="29" lengthAdjust="spacingAndGlyphs">kotel-kv.kz</text>
<text transform="translate(658.7 135.4) rotate(-20)" textLength="29" lengthAdjust="spacingAndGlyphs">kotel-kv.kz</text>
<text transform="translate(644.4 173.7) rotate(-20)" textLength="29" lengthAdjust="spacingAndGlyphs">kotel-kv.kz</text>
<text transform="translate(658.3 190.1) rotate(-20)" textLength="29" lengthAdjust="spacingAndGlyphs">kotel-kv.kz</text>
<text transform="translate(644.1 228.3) rotate(-20)" textLength="29" lengthAdjust="spacingAndGlyphs">kotel-kv.kz</text>
<text transform="translate(658.0 244.8) rotate(-20)" textLength="29" lengthAdjust="spacingAndGlyphs">kotel-kv.kz</text>
<text transform="translate(643.7 283.0) rotate(-20)" textLength="29" lengthAdjust="spacingAndGlyphs">kotel-kv.kz</text>
<text transform="translate(657.6 299.5) rotate(-20)" textLength="29" lengthAdjust="spacingAndGlyphs">kotel-kv.kz</text>
<text transform="translate(643.4 337.7) rotate(-20)" textLength="29" lengthAdjust="spacingAndGlyphs">kotel-kv.kz</text>
<text transform="translate(657.2 354.2) rotate(-20)" textLength="29" lengthAdjust="spacingAndGlyphs">kotel-kv.kz</text>
<text transform="translate(643.0 392.4) rotate(-20)" textLength="29" lengthAdjust="spacingAndGlyphs">kotel-kv.kz</text>
<text transform="translate(656.9 408.9) rotate(-20)" textLength="29" lengthAdjust="spacingAndGlyphs">kotel-kv.kz</text>
</g>
<clipPath id="h1"><rect x="71" y="192.8" width="216.39999999999998" height="10.899999999999977"/></clipPath>
<g clip-path="url(#h1)">
<line x1="45.00" y1="204.70" x2="57.90" y2="191.80" stroke="#c4c4c4" stroke-width="3.2" />
<line x1="53.55" y1="204.70" x2="66.45" y2="191.80" stroke="#c4c4c4" stroke-width="3.2" />
<line x1="62.10" y1="204.70" x2="75.00" y2="191.80" stroke="#c4c4c4" stroke-width="3.2" />
<line x1="70.65" y1="204.70" x2="83.55" y2="191.80" stroke="#c4c4c4" stroke-width="3.2" />
<line x1="79.20" y1="204.70" x2="92.10" y2="191.80" stroke="#c4c4c4" stroke-width="3.2" />
<line x1="87.75" y1="204.70" x2="100.65" y2="191.80" stroke="#c4c4c4" stroke-width="3.2" />
<line x1="96.30" y1="204.70" x2="109.20" y2="191.80" stroke="#c4c4c4" stroke-width="3.2" />
<line x1="104.85" y1="204.70" x2="117.75" y2="191.80" stroke="#c4c4c4" stroke-width="3.2" />
<line x1="113.40" y1="204.70" x2="126.30" y2="191.80" stroke="#c4c4c4" stroke-width="3.2" />
<line x1="121.95" y1="204.70" x2="134.85" y2="191.80" stroke="#c4c4c4" stroke-width="3.2" />
<line x1="130.50" y1="204.70" x2="143.40" y2="191.80" stroke="#c4c4c4" stroke-width="3.2" />
<line x1="139.05" y1="204.70" x2="151.95" y2="191.80" stroke="#c4c4c4" stroke-width="3.2" />
<line x1="147.60" y1="204.70" x2="160.50" y2="191.80" stroke="#c4c4c4" stroke-width="3.2" />
<line x1="156.15" y1="204.70" x2="169.05" y2="191.80" stroke="#c4c4c4" stroke-width="3.2" />
<line x1="164.70" y1="204.70" x2="177.60" y2="191.80" stroke="#c4c4c4" stroke-width="3.2" />
<line x1="173.25" y1="204.70" x2="186.15" y2="191.80" stroke="#c4c4c4" stroke-width="3.2" />
<line x1="181.80" y1="204.70" x2="194.70" y2="191.80" stroke="#c4c4c4" stroke-width="3.2" />
<line x1="190.35" y1="204.70" x2="203.25" y2="191.80" stroke="#c4c4c4" stroke-width="3.2" />
<line x1="198.90" y1="204.70" x2="211.80" y2="191.80" stroke="#c4c4c4" stroke-width="3.2" />
<line x1="207.45" y1="204.70" x2="220.35" y2="191.80" stroke="#c4c4c4" stroke-width="3.2" />
<line x1="216.00" y1="204.70" x2="228.90" y2="191.80" stroke="#c4c4c4" stroke-width="3.2" />
<line x1="224.55" y1="204.70" x2="237.45" y2="191.80" stroke="#c4c4c4" stroke-width="3.2" />
<line x1="233.10" y1="204.70" x2="246.00" y2="191.80" stroke="#c4c4c4" stroke-width="3.2" />
<line x1="241.65" y1="204.70" x2="254.55" y2="191.80" stroke="#c4c4c4" stroke-width="3.2" />
<line x1="250.20" y1="204.70" x2="263.10" y2="191.80" stroke="#c4c4c4" stroke-width="3.2" />
<line x1="258.75" y1="204.70" x2="271.65" y2="191.80" stroke="#c4c4c4" stroke-width="3.2" />
<line x1="267.30" y1="204.70" x2="280.20" y2="191.80" stroke="#c4c4c4" stroke-width="3.2" />
<line x1="275.85" y1="204.70" x2="288.75" y2="191.80" stroke="#c4c4c4" stroke-width="3.2" />
<line x1="284.40" y1="204.70" x2="297.30" y2="191.80" stroke="#c4c4c4" stroke-width="3.2" />
<line x1="292.95" y1="204.70" x2="305.85" y2="191.80" stroke="#c4c4c4" stroke-width="3.2" />
</g>
<line x1="71.00" y1="192.40" x2="97.00" y2="192.40" stroke="#9a9a9a" stroke-width="0.7" />
<line x1="269.00" y1="192.40" x2="287.60" y2="192.40" stroke="#4a4a4a" stroke-width="0.9" />
<rect x="95.45" y="39.40" width="174.15" height="121.10" rx="0" stroke="#484848" stroke-width="0.95" fill="none"/>
<rect x="101.30" y="35.40" width="1.80" height="4.00" rx="0" stroke="#666" stroke-width="0.5" fill="#8a8a8a"/>
<path d="M101.20,29.50 L102.80,29.50 Q105.80,32.40 102.80,35.30 L101.20,35.30 Z" stroke="#111" stroke-width="1.4" fill="#e8e8e8" />
<line x1="101.20" y1="28.90" x2="101.20" y2="35.80" stroke="#111" stroke-width="1.6" />
<line x1="104.70" y1="32.40" x2="107.10" y2="32.40" stroke="#111" stroke-width="1.2" />
<polygon points="105.70,32.40 107.90,30.20 107.90,34.60" fill="#111"/>
<rect x="128.50" y="35.40" width="1.80" height="4.00" rx="0" stroke="#666" stroke-width="0.5" fill="#8a8a8a"/>
<path d="M128.40,29.50 L130.00,29.50 Q133.00,32.40 130.00,35.30 L128.40,35.30 Z" stroke="#111" stroke-width="1.4" fill="#e8e8e8" />
<line x1="128.40" y1="28.90" x2="128.40" y2="35.80" stroke="#111" stroke-width="1.6" />
<line x1="131.90" y1="32.40" x2="134.30" y2="32.40" stroke="#111" stroke-width="1.2" />
<polygon points="132.90,32.40 135.10,30.20 135.10,34.60" fill="#111"/>
<rect x="192.20" y="35.40" width="1.80" height="4.00" rx="0" stroke="#666" stroke-width="0.5" fill="#8a8a8a"/>
<path d="M192.10,29.50 L193.70,29.50 Q196.70,32.40 193.70,35.30 L192.10,35.30 Z" stroke="#111" stroke-width="1.4" fill="#e8e8e8" />
<line x1="192.10" y1="28.90" x2="192.10" y2="35.80" stroke="#111" stroke-width="1.6" />
<line x1="195.60" y1="32.40" x2="198.00" y2="32.40" stroke="#111" stroke-width="1.2" />
<polygon points="196.60,32.40 198.80,30.20 198.80,34.60" fill="#111"/>
<rect x="202.00" y="35.40" width="1.80" height="4.00" rx="0" stroke="#666" stroke-width="0.5" fill="#8a8a8a"/>
<path d="M201.90,29.50 L203.50,29.50 Q206.50,32.40 203.50,35.30 L201.90,35.30 Z" stroke="#111" stroke-width="1.4" fill="#e8e8e8" />
<line x1="201.90" y1="28.90" x2="201.90" y2="35.80" stroke="#111" stroke-width="1.6" />
<line x1="205.40" y1="32.40" x2="207.80" y2="32.40" stroke="#111" stroke-width="1.2" />
<polygon points="206.40,32.40 208.60,30.20 208.60,34.60" fill="#111"/>
<rect x="235.40" y="35.40" width="1.80" height="4.00" rx="0" stroke="#666" stroke-width="0.5" fill="#8a8a8a"/>
<path d="M235.30,29.50 L236.90,29.50 Q239.90,32.40 236.90,35.30 L235.30,35.30 Z" stroke="#111" stroke-width="1.4" fill="#e8e8e8" />
<line x1="235.30" y1="28.90" x2="235.30" y2="35.80" stroke="#111" stroke-width="1.6" />
<line x1="238.80" y1="32.40" x2="241.20" y2="32.40" stroke="#111" stroke-width="1.2" />
<polygon points="239.80,32.40 242.00,30.20 242.00,34.60" fill="#111"/>
<path d="M110.40,39.40 A4.4,4.4 0 0 1 119.20,39.40" stroke="#333" stroke-width="1.0" fill="none" />
<path d="M111.70,39.40 A3.1,3.1 0 0 1 117.90,39.40" stroke="#555" stroke-width="0.8" fill="none" />
<circle cx="114.80" cy="37.50" r="1.60" stroke="#1a1a1a" stroke-width="1.1" fill="none"/>
<path d="M253.20,39.40 A4.4,4.4 0 0 1 262.00,39.40" stroke="#333" stroke-width="1.0" fill="none" />
<path d="M254.50,39.40 A3.1,3.1 0 0 1 260.70,39.40" stroke="#555" stroke-width="0.8" fill="none" />
<circle cx="257.60" cy="37.50" r="1.60" stroke="#1a1a1a" stroke-width="1.1" fill="none"/>
<circle cx="175.80" cy="68.50" r="0.80" stroke="none" stroke-width="0" fill="#222"/>
<rect x="206.50" y="48.20" width="28.90" height="95.40" rx="0" stroke="#8a8a8a" stroke-width="0.8" fill="none"/>
<line x1="207.70" y1="49.50" x2="234.20" y2="142.40" stroke="#9a9a9a" stroke-width="0.7" />
<line x1="234.20" y1="49.50" x2="207.70" y2="142.40" stroke="#9a9a9a" stroke-width="0.7" />
<rect x="246.70" y="48.20" width="17.90" height="95.40" rx="0" stroke="#8a8a8a" stroke-width="0.8" fill="none"/>
<line x1="247.90" y1="49.50" x2="263.40" y2="142.40" stroke="#9a9a9a" stroke-width="0.7" />
<line x1="263.40" y1="49.50" x2="247.90" y2="142.40" stroke="#9a9a9a" stroke-width="0.7" />
<line x1="248.60" y1="48.20" x2="248.60" y2="143.60" stroke="#b0b0b0" stroke-width="0.6" />
<line x1="94.30" y1="122.90" x2="94.30" y2="151.20" stroke="#1e1e1e" stroke-width="1.4" />
<line x1="93.20" y1="123.40" x2="93.20" y2="125.80" stroke="#222" stroke-width="1.0" />
<line x1="93.20" y1="148.40" x2="93.20" y2="150.80" stroke="#222" stroke-width="1.0" />
<line x1="91.00" y1="138.50" x2="93.80" y2="138.50" stroke="#333" stroke-width="1.1" />
<line x1="91.30" y1="137.30" x2="91.30" y2="139.70" stroke="#333" stroke-width="0.9" />
<line x1="101.90" y1="104.50" x2="101.90" y2="188.00" stroke="#b4b4b4" stroke-width="0.7" />
<line x1="202.40" y1="104.50" x2="202.40" y2="150.00" stroke="#b4b4b4" stroke-width="0.7" />
<line x1="101.90" y1="108.00" x2="202.40" y2="108.00" stroke="#b4b4b4" stroke-width="0.8" />
<polygon points="101.90,108.00 106.20,107.20 106.20,108.80" fill="#3c3c3c"/>
<polygon points="202.40,108.00 198.10,108.80 198.10,107.20" fill="#3c3c3c"/>
<text x="137.90" y="105.80" font-size="15.5" textLength="29.60" lengthAdjust="spacingAndGlyphs" fill="#111" stroke="#111" stroke-width="0.3" font-weight="normal">1745</text>
<rect x="138.80" y="123.00" width="34.10" height="30.10" rx="1.2" stroke="#686868" stroke-width="1.4" fill="#fff"/>
<rect x="141.50" y="127.60" width="27.40" height="20.90" rx="0.8" stroke="#686868" stroke-width="1.2" fill="none"/>
<circle cx="149.54" cy="125.40" r="1.45" stroke="none" stroke-width="0" fill="#111"/>
<circle cx="160.62" cy="125.40" r="1.45" stroke="none" stroke-width="0" fill="#111"/>
<circle cx="143.92" cy="150.70" r="1.45" stroke="none" stroke-width="0" fill="#111"/>
<circle cx="166.42" cy="150.70" r="1.45" stroke="none" stroke-width="0" fill="#111"/>
<rect x="139.80" y="138.56" width="10.25" height="2.60" rx="1.3" stroke="#111" stroke-width="1.0" fill="#fff"/>
<path d="M153.38,139.44 L153.38,136.24 Q153.38,133.84 155.68,133.84 Q157.98,133.84 157.98,136.24 L157.98,139.44 Z" stroke="#444" stroke-width="0.9" fill="none" />
<path d="M169.30,130.83 h2.0 v14.15 h-2.0" stroke="#444" stroke-width="0.9" fill="none" />
<circle cx="170.20" cy="131.23" r="1.00" stroke="none" stroke-width="0" fill="#222"/>
<circle cx="170.20" cy="144.57" r="1.00" stroke="none" stroke-width="0" fill="#222"/>
<line x1="111.70" y1="150.90" x2="116.90" y2="150.90" stroke="#111" stroke-width="1.3" />
<line x1="114.30" y1="150.90" x2="114.30" y2="153.40" stroke="#111" stroke-width="1.2" />
<rect x="112.80" y="152.60" width="3.00" height="6.50" rx="1.45" stroke="none" stroke-width="0" fill="#111"/>
<line x1="175.40" y1="150.90" x2="180.60" y2="150.90" stroke="#111" stroke-width="1.3" />
<line x1="178.00" y1="150.90" x2="178.00" y2="153.40" stroke="#111" stroke-width="1.2" />
<rect x="176.50" y="152.60" width="3.00" height="6.50" rx="1.45" stroke="none" stroke-width="0" fill="#111"/>
<line x1="229.60" y1="150.90" x2="234.80" y2="150.90" stroke="#111" stroke-width="1.3" />
<line x1="232.20" y1="150.90" x2="232.20" y2="153.40" stroke="#111" stroke-width="1.2" />
<rect x="230.70" y="152.60" width="3.00" height="6.50" rx="1.45" stroke="none" stroke-width="0" fill="#111"/>
<line x1="95.95" y1="163.60" x2="267.20" y2="163.60" stroke="#555" stroke-width="0.9" />
<line x1="100.60" y1="163.60" x2="100.60" y2="188.40" stroke="#4a4a4a" stroke-width="0.85" />
<line x1="103.60" y1="163.60" x2="103.60" y2="188.40" stroke="#666" stroke-width="0.85" />
<line x1="104.90" y1="163.60" x2="104.90" y2="188.40" stroke="#aaa" stroke-width="0.85" />
<line x1="108.60" y1="163.60" x2="108.60" y2="188.40" stroke="#4a4a4a" stroke-width="0.85" />
<line x1="198.00" y1="163.60" x2="198.00" y2="188.40" stroke="#4a4a4a" stroke-width="0.85" />
<line x1="201.70" y1="163.60" x2="201.70" y2="188.40" stroke="#666" stroke-width="0.85" />
<line x1="203.40" y1="163.60" x2="203.40" y2="188.40" stroke="#aaa" stroke-width="0.85" />
<line x1="205.00" y1="163.60" x2="205.00" y2="188.40" stroke="#4a4a4a" stroke-width="0.85" />
<line x1="258.90" y1="163.60" x2="258.90" y2="188.40" stroke="#4a4a4a" stroke-width="0.85" />
<line x1="262.70" y1="163.60" x2="262.70" y2="188.40" stroke="#666" stroke-width="0.85" />
<line x1="264.40" y1="163.60" x2="264.40" y2="188.40" stroke="#aaa" stroke-width="0.85" />
<line x1="266.40" y1="163.60" x2="266.40" y2="188.40" stroke="#4a4a4a" stroke-width="0.85" />
<path d="M99.6,188.5 L267.4,188.5 L270.2,192.1 L96.4,192.1 Z" stroke="#555" stroke-width="0.8" fill="#fff" />
<line x1="96.40" y1="192.00" x2="270.20" y2="192.00" stroke="#2a2a2a" stroke-width="1.3" />
<path d="M206.3,163.4 L212.8,181.3 L259.4,181.3" stroke="#444" stroke-width="0.9" fill="none" />
<line x1="267.40" y1="166.00" x2="267.40" y2="184.00" stroke="#333" stroke-width="1.2" />
<circle cx="268.60" cy="170.50" r="0.80" stroke="none" stroke-width="0" fill="#222"/>
<circle cx="268.60" cy="179.50" r="0.80" stroke="none" stroke-width="0" fill="#222"/>
<path d="M118.5,138 L118.5,163.5 Q118.5,166 121,166 L127,166" stroke="#444" stroke-width="2.6" fill="none" stroke-linecap="round"/>
<path d="M118.5,138 L118.5,163.5 Q118.5,166 121,166 L127,166" stroke="#999" stroke-width="1.3" fill="none" stroke-linecap="round"/>
<line x1="124.50" y1="173.80" x2="178.00" y2="173.80" stroke="#333" stroke-width="2.4" stroke-linecap="round"/>
<line x1="124.50" y1="173.80" x2="178.00" y2="173.80" stroke="#ddd" stroke-width="1.0" stroke-linecap="round"/>
<line x1="130.30" y1="164.90" x2="124.50" y2="173.80" stroke="#333" stroke-width="2.4" stroke-linecap="round"/>
<line x1="130.30" y1="164.90" x2="124.50" y2="173.80" stroke="#ddd" stroke-width="1.0" stroke-linecap="round"/>
<circle cx="124.50" cy="173.80" r="1.35" stroke="none" stroke-width="0" fill="#111"/>
<line x1="148.40" y1="164.90" x2="142.10" y2="173.80" stroke="#333" stroke-width="2.4" stroke-linecap="round"/>
<line x1="148.40" y1="164.90" x2="142.10" y2="173.80" stroke="#ddd" stroke-width="1.0" stroke-linecap="round"/>
<circle cx="142.10" cy="173.80" r="1.35" stroke="none" stroke-width="0" fill="#111"/>
<line x1="166.10" y1="164.90" x2="159.90" y2="173.80" stroke="#333" stroke-width="2.4" stroke-linecap="round"/>
<line x1="166.10" y1="164.90" x2="159.90" y2="173.80" stroke="#ddd" stroke-width="1.0" stroke-linecap="round"/>
<circle cx="159.90" cy="173.80" r="1.35" stroke="none" stroke-width="0" fill="#111"/>
<line x1="183.80" y1="164.90" x2="178.00" y2="173.80" stroke="#333" stroke-width="2.4" stroke-linecap="round"/>
<line x1="183.80" y1="164.90" x2="178.00" y2="173.80" stroke="#ddd" stroke-width="1.0" stroke-linecap="round"/>
<circle cx="178.00" cy="173.80" r="1.35" stroke="none" stroke-width="0" fill="#111"/>
<circle cx="199.80" cy="154.20" r="8.00" stroke="#1e1e1e" stroke-width="1.35" fill="#fff"/>
<circle cx="199.80" cy="154.20" r="6.20" stroke="#d0d0d0" stroke-width="1.9" fill="none"/>
<circle cx="199.80" cy="154.20" r="6.2" stroke="#1a1a1a" stroke-width="1.9" fill="none" stroke-dasharray="2.6 2.27" stroke-dashoffset="1.3"/>
<circle cx="199.80" cy="154.20" r="4.15" stroke="#1e1e1e" stroke-width="1.7" fill="#fff"/>
<circle cx="252.40" cy="154.20" r="8.00" stroke="#1e1e1e" stroke-width="1.35" fill="#fff"/>
<circle cx="252.40" cy="154.20" r="6.20" stroke="#d0d0d0" stroke-width="1.9" fill="none"/>
<circle cx="252.40" cy="154.20" r="6.2" stroke="#1a1a1a" stroke-width="1.9" fill="none" stroke-dasharray="2.6 2.27" stroke-dashoffset="1.3"/>
<circle cx="252.40" cy="154.20" r="4.15" stroke="#1e1e1e" stroke-width="1.7" fill="#fff"/>
<line x1="199.80" y1="154.20" x2="136.80" y2="226.70" stroke="#7a7a7a" stroke-width="0.7" />
<line x1="41.80" y1="226.70" x2="136.80" y2="226.70" stroke="#8a8a8a" stroke-width="0.8" />
<line x1="252.40" y1="154.20" x2="294.60" y2="187.60" stroke="#7a7a7a" stroke-width="0.7" />
<line x1="294.60" y1="187.60" x2="382.80" y2="187.60" stroke="#8a8a8a" stroke-width="0.8" />
<line x1="287.20" y1="110.00" x2="221.50" y2="129.80" stroke="#7a7a7a" stroke-width="0.7" />
<line x1="287.20" y1="110.00" x2="255.30" y2="139.50" stroke="#7a7a7a" stroke-width="0.7" />
<line x1="287.20" y1="110.00" x2="315.80" y2="110.00" stroke="#8a8a8a" stroke-width="0.8" />
<text x="286.80" y="46.70" font-size="15.7" textLength="40.40" lengthAdjust="spacingAndGlyphs" fill="#111" stroke="#111" stroke-width="0.3" font-weight="normal">Выход</text>
<text x="286.80" y="66.00" font-size="17.4" textLength="38.20" lengthAdjust="spacingAndGlyphs" fill="#111" stroke="#111" stroke-width="0.3" font-weight="normal">газов</text>
<line x1="282.50" y1="74.20" x2="297.00" y2="74.20" stroke="#444" stroke-width="0.8" />
<polygon points="306.20,74.20 294.80,72.50 297.60,74.20 294.80,75.90" fill="#111"/>
<line x1="330.00" y1="79.20" x2="352.80" y2="79.20" stroke="#222" stroke-width="1.0" />
<polygon points="326.20,79.20 337.40,77.60 334.80,79.20 337.40,80.80" fill="#111"/>
<text x="340.60" y="77.00" font-size="17.9" textLength="10.80" lengthAdjust="spacingAndGlyphs" font-style="italic" fill="#111" stroke="#111" stroke-width="0.3" font-weight="normal">А</text>
<text x="289.40" y="109.20" font-size="15.1" textLength="26.60" lengthAdjust="spacingAndGlyphs" font-style="italic" fill="#111" stroke="#111" stroke-width="0.3" font-weight="normal">Люк</text>
<text x="297.20" y="186.40" font-size="14.9" textLength="81.80" lengthAdjust="spacingAndGlyphs" font-style="italic" fill="#111" stroke="#111" stroke-width="0.3" font-weight="normal">Отвод воды</text>
<text x="315.40" y="199.70" font-size="14.5" textLength="46.40" lengthAdjust="spacingAndGlyphs" font-style="italic" fill="#111" stroke="#111" stroke-width="0.3" font-weight="normal">Ду 150</text>
<text x="46.60" y="224.80" font-size="14.9" textLength="89.00" lengthAdjust="spacingAndGlyphs" font-style="italic" fill="#111" stroke="#111" stroke-width="0.3" font-weight="normal">Подвод воды</text>
<text x="68.20" y="238.50" font-size="14.5" textLength="46.20" lengthAdjust="spacingAndGlyphs" font-style="italic" fill="#111" stroke="#111" stroke-width="0.3" font-weight="normal">Ду 150</text>
<clipPath id="h2"><rect x="410" y="196.9" width="158" height="10.599999999999994"/></clipPath>
<g clip-path="url(#h2)">
<line x1="382.80" y1="208.50" x2="395.40" y2="195.90" stroke="#c4c4c4" stroke-width="3.2" />
<line x1="391.10" y1="208.50" x2="403.70" y2="195.90" stroke="#c4c4c4" stroke-width="3.2" />
<line x1="399.40" y1="208.50" x2="412.00" y2="195.90" stroke="#c4c4c4" stroke-width="3.2" />
<line x1="407.70" y1="208.50" x2="420.30" y2="195.90" stroke="#c4c4c4" stroke-width="3.2" />
<line x1="416.00" y1="208.50" x2="428.60" y2="195.90" stroke="#c4c4c4" stroke-width="3.2" />
<line x1="424.30" y1="208.50" x2="436.90" y2="195.90" stroke="#c4c4c4" stroke-width="3.2" />
<line x1="432.60" y1="208.50" x2="445.20" y2="195.90" stroke="#c4c4c4" stroke-width="3.2" />
<line x1="440.90" y1="208.50" x2="453.50" y2="195.90" stroke="#c4c4c4" stroke-width="3.2" />
<line x1="449.20" y1="208.50" x2="461.80" y2="195.90" stroke="#c4c4c4" stroke-width="3.2" />
<line x1="457.50" y1="208.50" x2="470.10" y2="195.90" stroke="#c4c4c4" stroke-width="3.2" />
<line x1="465.80" y1="208.50" x2="478.40" y2="195.90" stroke="#c4c4c4" stroke-width="3.2" />
<line x1="474.10" y1="208.50" x2="486.70" y2="195.90" stroke="#c4c4c4" stroke-width="3.2" />
<line x1="482.40" y1="208.50" x2="495.00" y2="195.90" stroke="#c4c4c4" stroke-width="3.2" />
<line x1="490.70" y1="208.50" x2="503.30" y2="195.90" stroke="#c4c4c4" stroke-width="3.2" />
<line x1="499.00" y1="208.50" x2="511.60" y2="195.90" stroke="#c4c4c4" stroke-width="3.2" />
<line x1="507.30" y1="208.50" x2="519.90" y2="195.90" stroke="#c4c4c4" stroke-width="3.2" />
<line x1="515.60" y1="208.50" x2="528.20" y2="195.90" stroke="#c4c4c4" stroke-width="3.2" />
<line x1="523.90" y1="208.50" x2="536.50" y2="195.90" stroke="#c4c4c4" stroke-width="3.2" />
<line x1="532.20" y1="208.50" x2="544.80" y2="195.90" stroke="#c4c4c4" stroke-width="3.2" />
<line x1="540.50" y1="208.50" x2="553.10" y2="195.90" stroke="#c4c4c4" stroke-width="3.2" />
<line x1="548.80" y1="208.50" x2="561.40" y2="195.90" stroke="#c4c4c4" stroke-width="3.2" />
<line x1="557.10" y1="208.50" x2="569.70" y2="195.90" stroke="#c4c4c4" stroke-width="3.2" />
<line x1="565.40" y1="208.50" x2="578.00" y2="195.90" stroke="#c4c4c4" stroke-width="3.2" />
<line x1="573.70" y1="208.50" x2="586.30" y2="195.90" stroke="#c4c4c4" stroke-width="3.2" />
</g>
<line x1="410.00" y1="196.30" x2="568.00" y2="196.30" stroke="#3c3c3c" stroke-width="1.1" />
<line x1="497.60" y1="18.00" x2="497.60" y2="200.00" stroke="#b8b8b8" stroke-width="0.7" />
<rect x="449.30" y="42.90" width="96.30" height="121.40" rx="0" stroke="#484848" stroke-width="0.95" fill="none"/>
<rect x="457.70" y="38.90" width="1.80" height="4.00" rx="0" stroke="#666" stroke-width="0.5" fill="#8a8a8a"/>
<path d="M457.60,33.00 L459.20,33.00 Q462.20,35.90 459.20,38.80 L457.60,38.80 Z" stroke="#111" stroke-width="1.4" fill="#e8e8e8" />
<line x1="457.60" y1="32.40" x2="457.60" y2="39.30" stroke="#111" stroke-width="1.6" />
<line x1="461.10" y1="35.90" x2="463.50" y2="35.90" stroke="#111" stroke-width="1.2" />
<polygon points="462.10,35.90 464.30,33.70 464.30,38.10" fill="#111"/>
<rect x="471.30" y="38.90" width="1.80" height="4.00" rx="0" stroke="#666" stroke-width="0.5" fill="#8a8a8a"/>
<path d="M471.20,33.00 L472.80,33.00 Q475.80,35.90 472.80,38.80 L471.20,38.80 Z" stroke="#111" stroke-width="1.4" fill="#e8e8e8" />
<line x1="471.20" y1="32.40" x2="471.20" y2="39.30" stroke="#111" stroke-width="1.6" />
<line x1="474.70" y1="35.90" x2="477.10" y2="35.90" stroke="#111" stroke-width="1.2" />
<polygon points="475.70,35.90 477.90,33.70 477.90,38.10" fill="#111"/>
<rect x="522.90" y="38.90" width="1.80" height="4.00" rx="0" stroke="#666" stroke-width="0.5" fill="#8a8a8a"/>
<path d="M522.80,33.00 L524.40,33.00 Q527.40,35.90 524.40,38.80 L522.80,38.80 Z" stroke="#111" stroke-width="1.4" fill="#e8e8e8" />
<line x1="522.80" y1="32.40" x2="522.80" y2="39.30" stroke="#111" stroke-width="1.6" />
<line x1="526.30" y1="35.90" x2="528.70" y2="35.90" stroke="#111" stroke-width="1.2" />
<polygon points="527.30,35.90 529.50,33.70 529.50,38.10" fill="#111"/>
<rect x="535.90" y="38.90" width="1.80" height="4.00" rx="0" stroke="#666" stroke-width="0.5" fill="#8a8a8a"/>
<path d="M535.80,33.00 L537.40,33.00 Q540.40,35.90 537.40,38.80 L535.80,38.80 Z" stroke="#111" stroke-width="1.4" fill="#e8e8e8" />
<line x1="535.80" y1="32.40" x2="535.80" y2="39.30" stroke="#111" stroke-width="1.6" />
<line x1="539.30" y1="35.90" x2="541.70" y2="35.90" stroke="#111" stroke-width="1.2" />
<polygon points="540.30,35.90 542.50,33.70 542.50,38.10" fill="#111"/>
<circle cx="546.20" cy="72.20" r="0.80" stroke="none" stroke-width="0" fill="#222"/>
<rect x="479.80" y="126.40" width="34.90" height="30.10" rx="1.2" stroke="#686868" stroke-width="1.4" fill="#fff"/>
<rect x="482.60" y="131.00" width="27.00" height="20.20" rx="0.8" stroke="#686868" stroke-width="1.2" fill="none"/>
<circle cx="490.79" cy="128.80" r="1.45" stroke="none" stroke-width="0" fill="#111"/>
<circle cx="502.14" cy="128.80" r="1.45" stroke="none" stroke-width="0" fill="#111"/>
<circle cx="485.04" cy="153.75" r="1.45" stroke="none" stroke-width="0" fill="#111"/>
<circle cx="508.07" cy="153.75" r="1.45" stroke="none" stroke-width="0" fill="#111"/>
<rect x="480.80" y="141.96" width="10.52" height="2.60" rx="1.3" stroke="#111" stroke-width="1.0" fill="#fff"/>
<path d="M494.78,142.84 L494.78,139.64 Q494.78,137.24 497.08,137.24 Q499.38,137.24 499.38,139.64 L499.38,142.84 Z" stroke="#444" stroke-width="0.9" fill="none" />
<path d="M510.00,134.23 h2.0 v14.15 h-2.0" stroke="#444" stroke-width="0.9" fill="none" />
<circle cx="510.90" cy="134.63" r="1.00" stroke="none" stroke-width="0" fill="#222"/>
<circle cx="510.90" cy="147.97" r="1.00" stroke="none" stroke-width="0" fill="#222"/>
<rect x="453.60" y="164.60" width="89.10" height="30.80" rx="0" stroke="#4a4a4a" stroke-width="0.9" fill="none"/>
<line x1="453.50" y1="167.60" x2="543.00" y2="167.60" stroke="#777" stroke-width="0.8" />
<line x1="462.60" y1="192.40" x2="533.40" y2="192.40" stroke="#bbb" stroke-width="0.7" />
<line x1="462.70" y1="165.00" x2="462.70" y2="195.40" stroke="#4a4a4a" stroke-width="0.9" />
<line x1="533.40" y1="165.00" x2="533.40" y2="195.40" stroke="#4a4a4a" stroke-width="0.9" />
<line x1="455.30" y1="167.60" x2="455.30" y2="195.40" stroke="#b0b0b0" stroke-width="0.6" />
<line x1="458.90" y1="167.60" x2="458.90" y2="195.40" stroke="#b0b0b0" stroke-width="0.6" />
<line x1="537.20" y1="167.60" x2="537.20" y2="195.40" stroke="#b0b0b0" stroke-width="0.6" />
<line x1="540.80" y1="167.60" x2="540.80" y2="195.40" stroke="#b0b0b0" stroke-width="0.6" />
<line x1="448.80" y1="165.50" x2="455.80" y2="165.50" stroke="#111" stroke-width="1.7" />
<line x1="541.20" y1="165.40" x2="546.30" y2="165.40" stroke="#111" stroke-width="1.5" />
<rect x="447.40" y="171.00" width="4.60" height="19.30" rx="0" stroke="#777" stroke-width="0.7" fill="#f4f4f4"/>
<line x1="448.90" y1="171.00" x2="448.90" y2="190.30" stroke="#999" stroke-width="0.6" />
<line x1="450.60" y1="171.00" x2="450.60" y2="190.30" stroke="#999" stroke-width="0.6" />
<rect x="442.50" y="171.40" width="4.50" height="20.30" rx="0" stroke="#333" stroke-width="0.8" fill="#8c8c8c"/>
<line x1="442.50" y1="173.80" x2="447.00" y2="173.80" stroke="#3a3a3a" stroke-width="0.9" />
<line x1="442.50" y1="182.00" x2="447.00" y2="182.00" stroke="#3a3a3a" stroke-width="0.9" />
<line x1="442.50" y1="187.20" x2="447.00" y2="187.20" stroke="#3a3a3a" stroke-width="0.9" />
<line x1="442.50" y1="176.40" x2="447.00" y2="176.40" stroke="#666" stroke-width="0.5" />
<line x1="442.50" y1="179.20" x2="447.00" y2="179.20" stroke="#666" stroke-width="0.5" />
<line x1="442.50" y1="184.60" x2="447.00" y2="184.60" stroke="#666" stroke-width="0.5" />
<line x1="442.50" y1="189.60" x2="447.00" y2="189.60" stroke="#666" stroke-width="0.5" />
<rect x="441.60" y="154.80" width="2.40" height="1.80" rx="0.8" stroke="none" stroke-width="0" fill="#1a1a1a"/>
<line x1="442.80" y1="156.00" x2="442.80" y2="171.00" stroke="#222" stroke-width="1.2" />
<polygon points="442.80,156.80 445.60,160.00 440.00,160.00" fill="#1a1a1a"/>
<line x1="439.50" y1="160.30" x2="447.00" y2="160.30" stroke="#111" stroke-width="1.5" />
<line x1="439.50" y1="162.40" x2="449.50" y2="162.40" stroke="#111" stroke-width="1.5" />
<polygon points="442.80,164.60 445.60,168.00 440.00,168.00" fill="#1a1a1a"/>
<line x1="439.50" y1="168.40" x2="447.00" y2="168.40" stroke="#111" stroke-width="1.5" />
<line x1="439.50" y1="170.40" x2="451.60" y2="170.40" stroke="#111" stroke-width="1.4" />
<path d="M438.8,176.2 Q436.6,183.4 441.8,187.0" stroke="#333" stroke-width="0.9" fill="none" />
<line x1="438.20" y1="176.00" x2="444.20" y2="182.20" stroke="#333" stroke-width="0.9" />
<circle cx="444.60" cy="182.40" r="1.10" stroke="none" stroke-width="0" fill="#111"/>
<path d="M550.6,142.4 L550.6,161.6" stroke="#555" stroke-width="2.5" fill="none" stroke-linecap="round"/>
<path d="M550.6,142.4 L550.6,161.6" stroke="#999" stroke-width="1.3" fill="none" stroke-linecap="round"/>
<line x1="552.50" y1="148.80" x2="552.50" y2="170.20" stroke="#333" stroke-width="0.8" />
<polygon points="552.50,153.20 554.60,158.80 550.40,158.80" fill="#1a1a1a"/>
<line x1="549.20" y1="159.60" x2="555.40" y2="159.60" stroke="#111" stroke-width="1.6" />
<line x1="545.60" y1="161.60" x2="555.40" y2="161.60" stroke="#111" stroke-width="1.3" />
<polygon points="552.50,163.20 554.60,168.40 550.40,168.40" fill="#1a1a1a"/>
<line x1="549.20" y1="169.40" x2="555.40" y2="169.40" stroke="#111" stroke-width="1.7" />
<line x1="545.60" y1="166.60" x2="550.60" y2="166.60" stroke="#222" stroke-width="1.3" />
<line x1="543.50" y1="165.20" x2="543.50" y2="177.40" stroke="#333" stroke-width="1.8" />
<circle cx="543.50" cy="177.80" r="1.00" stroke="none" stroke-width="0" fill="#222"/>
<line x1="425.50" y1="42.90" x2="449.30" y2="42.90" stroke="#b4b4b4" stroke-width="0.7" />
<line x1="425.50" y1="164.50" x2="449.30" y2="164.50" stroke="#b4b4b4" stroke-width="0.7" />
<line x1="427.30" y1="42.90" x2="427.30" y2="164.50" stroke="#b4b4b4" stroke-width="0.8" />
<polygon points="427.30,42.90 428.10,47.20 426.50,47.20" fill="#3c3c3c"/>
<polygon points="427.30,164.50 426.50,160.20 428.10,160.20" fill="#3c3c3c"/>
<text x="425.20" y="116.90" font-size="15.5" textLength="25.80" lengthAdjust="spacingAndGlyphs" transform="rotate(-90 425.20 116.90)" fill="#111" stroke="#111" stroke-width="0.3" font-weight="normal">2110</text>
<line x1="538.00" y1="39.10" x2="586.00" y2="39.10" stroke="#b4b4b4" stroke-width="0.7" />
<line x1="541.00" y1="196.20" x2="586.00" y2="196.20" stroke="#b4b4b4" stroke-width="0.7" />
<line x1="584.30" y1="39.10" x2="584.30" y2="196.20" stroke="#b4b4b4" stroke-width="0.8" />
<polygon points="584.30,39.10 585.10,43.40 583.50,43.40" fill="#3c3c3c"/>
<polygon points="584.30,196.20 583.50,191.90 585.10,191.90" fill="#3c3c3c"/>
<text x="582.20" y="132.30" font-size="15.5" textLength="29.80" lengthAdjust="spacingAndGlyphs" transform="rotate(-90 582.20 132.30)" fill="#111" stroke="#111" stroke-width="0.3" font-weight="normal">2720</text>
<line x1="553.80" y1="158.60" x2="576.00" y2="158.60" stroke="#b4b4b4" stroke-width="0.7" />
<line x1="574.10" y1="158.60" x2="574.10" y2="196.20" stroke="#b4b4b4" stroke-width="0.8" />
<polygon points="574.10,158.60 574.90,162.90 573.30,162.90" fill="#3c3c3c"/>
<polygon points="574.10,196.20 573.30,191.90 574.90,191.90" fill="#3c3c3c"/>
<text x="571.70" y="188.00" font-size="15.5" textLength="22.00" lengthAdjust="spacingAndGlyphs" transform="rotate(-90 571.70 188.00)" fill="#111" stroke="#111" stroke-width="0.3" font-weight="normal">660</text>
<line x1="457.70" y1="197.00" x2="457.70" y2="226.50" stroke="#b4b4b4" stroke-width="0.7" />
<line x1="537.30" y1="197.00" x2="537.30" y2="226.50" stroke="#b4b4b4" stroke-width="0.7" />
<line x1="457.70" y1="224.30" x2="537.30" y2="224.30" stroke="#b4b4b4" stroke-width="0.8" />
<polygon points="457.70,224.30 462.00,223.50 462.00,225.10" fill="#3c3c3c"/>
<polygon points="537.30,224.30 533.00,225.10 533.00,223.50" fill="#3c3c3c"/>
<text x="483.40" y="221.80" font-size="15.3" textLength="27.80" lengthAdjust="spacingAndGlyphs" fill="#111" stroke="#111" stroke-width="0.3" font-weight="normal">1360</text>
<line x1="446.80" y1="192.50" x2="446.80" y2="247.50" stroke="#b4b4b4" stroke-width="0.7" />
<line x1="552.30" y1="171.60" x2="552.30" y2="247.50" stroke="#b4b4b4" stroke-width="0.7" />
<line x1="446.80" y1="245.40" x2="552.30" y2="245.40" stroke="#b4b4b4" stroke-width="0.8" />
<polygon points="446.80,245.40 451.10,244.60 451.10,246.20" fill="#3c3c3c"/>
<polygon points="552.30,245.40 548.00,246.20 548.00,244.60" fill="#3c3c3c"/>
<text x="486.00" y="242.70" font-size="15.3" textLength="28.00" lengthAdjust="spacingAndGlyphs" fill="#111" stroke="#111" stroke-width="0.3" font-weight="normal">1850</text>
<rect x="95.50" y="287.20" width="173.90" height="95.40" rx="0" stroke="#555" stroke-width="0.95" fill="none"/>
<line x1="90.00" y1="334.50" x2="270.00" y2="334.50" stroke="#d2d2d2" stroke-width="0.8" />
<rect x="93.60" y="319.20" width="1.90" height="32.20" rx="0" stroke="#111" stroke-width="0.4" fill="#111"/>
<line x1="90.40" y1="318.90" x2="95.50" y2="318.90" stroke="#222" stroke-width="1.0" />
<line x1="152.60" y1="287.20" x2="152.60" y2="284.20" stroke="#444" stroke-width="0.7" />
<line x1="154.60" y1="287.20" x2="154.60" y2="284.20" stroke="#444" stroke-width="0.7" />
<rect x="151.70" y="278.50" width="3.80" height="5.90" rx="1.7" stroke="none" stroke-width="0" fill="#111"/>
<line x1="201.50" y1="287.20" x2="201.50" y2="284.20" stroke="#444" stroke-width="0.7" />
<line x1="203.50" y1="287.20" x2="203.50" y2="284.20" stroke="#444" stroke-width="0.7" />
<rect x="200.60" y="278.50" width="3.80" height="5.90" rx="1.7" stroke="none" stroke-width="0" fill="#111"/>
<line x1="251.60" y1="287.20" x2="251.60" y2="284.20" stroke="#444" stroke-width="0.7" />
<line x1="253.60" y1="287.20" x2="253.60" y2="284.20" stroke="#444" stroke-width="0.7" />
<rect x="250.70" y="278.50" width="3.80" height="5.90" rx="1.7" stroke="none" stroke-width="0" fill="#111"/>
<line x1="114.30" y1="382.60" x2="114.30" y2="386.60" stroke="#222" stroke-width="1.6" />
<ellipse cx="114.30" cy="388.20" rx="2.0" ry="2.9" fill="#111"/>
<line x1="177.80" y1="382.60" x2="177.80" y2="386.60" stroke="#222" stroke-width="1.6" />
<ellipse cx="177.80" cy="388.20" rx="2.0" ry="2.9" fill="#111"/>
<line x1="232.20" y1="382.60" x2="232.20" y2="386.60" stroke="#222" stroke-width="1.6" />
<ellipse cx="232.20" cy="388.20" rx="2.0" ry="2.9" fill="#111"/>
<line x1="99.10" y1="289.30" x2="104.30" y2="289.30" stroke="#111" stroke-width="1.3" />
<line x1="101.70" y1="289.30" x2="101.70" y2="291.80" stroke="#111" stroke-width="1.2" />
<rect x="100.20" y="291.00" width="3.00" height="6.50" rx="1.45" stroke="none" stroke-width="0" fill="#111"/>
<line x1="190.00" y1="289.30" x2="195.20" y2="289.30" stroke="#111" stroke-width="1.3" />
<line x1="192.60" y1="289.30" x2="192.60" y2="291.80" stroke="#111" stroke-width="1.2" />
<rect x="191.10" y="291.00" width="3.00" height="6.50" rx="1.45" stroke="none" stroke-width="0" fill="#111"/>
<line x1="232.60" y1="289.30" x2="237.80" y2="289.30" stroke="#111" stroke-width="1.3" />
<line x1="235.20" y1="289.30" x2="235.20" y2="291.80" stroke="#111" stroke-width="1.2" />
<rect x="233.70" y="291.00" width="3.00" height="6.50" rx="1.45" stroke="none" stroke-width="0" fill="#111"/>
<line x1="199.90" y1="300.20" x2="205.10" y2="300.20" stroke="#111" stroke-width="1.3" />
<line x1="202.50" y1="300.20" x2="202.50" y2="302.70" stroke="#111" stroke-width="1.2" />
<rect x="201.00" y="301.90" width="3.00" height="6.50" rx="1.45" stroke="none" stroke-width="0" fill="#111"/>
<line x1="199.90" y1="356.20" x2="205.10" y2="356.20" stroke="#111" stroke-width="1.3" />
<line x1="202.50" y1="356.20" x2="202.50" y2="358.70" stroke="#111" stroke-width="1.2" />
<rect x="201.00" y="357.90" width="3.00" height="6.50" rx="1.45" stroke="none" stroke-width="0" fill="#111"/>
<line x1="99.10" y1="367.20" x2="104.30" y2="367.20" stroke="#111" stroke-width="1.3" />
<line x1="101.70" y1="367.20" x2="101.70" y2="369.70" stroke="#111" stroke-width="1.2" />
<rect x="100.20" y="368.90" width="3.00" height="6.50" rx="1.45" stroke="none" stroke-width="0" fill="#111"/>
<line x1="126.40" y1="367.20" x2="131.60" y2="367.20" stroke="#111" stroke-width="1.3" />
<line x1="129.00" y1="367.20" x2="129.00" y2="369.70" stroke="#111" stroke-width="1.2" />
<rect x="127.50" y="368.90" width="3.00" height="6.50" rx="1.45" stroke="none" stroke-width="0" fill="#111"/>
<line x1="232.60" y1="367.20" x2="237.80" y2="367.20" stroke="#111" stroke-width="1.3" />
<line x1="235.20" y1="367.20" x2="235.20" y2="369.70" stroke="#111" stroke-width="1.2" />
<rect x="233.70" y="368.90" width="3.00" height="6.50" rx="1.45" stroke="none" stroke-width="0" fill="#111"/>
<line x1="195.40" y1="382.60" x2="195.40" y2="388.80" stroke="#444" stroke-width="0.9" />
<line x1="204.80" y1="382.60" x2="204.80" y2="388.80" stroke="#444" stroke-width="0.9" />
<rect x="191.90" y="388.70" width="16.40" height="1.80" rx="0" stroke="none" stroke-width="0" fill="#3a3a3a"/>
<line x1="200.10" y1="384.00" x2="200.10" y2="416.00" stroke="#b4b4b4" stroke-width="0.7" />
<line x1="248.10" y1="382.60" x2="248.10" y2="388.80" stroke="#444" stroke-width="0.9" />
<line x1="257.50" y1="382.60" x2="257.50" y2="388.80" stroke="#444" stroke-width="0.9" />
<rect x="244.60" y="388.70" width="16.40" height="1.80" rx="0" stroke="none" stroke-width="0" fill="#3a3a3a"/>
<line x1="252.80" y1="384.00" x2="252.80" y2="416.00" stroke="#b4b4b4" stroke-width="0.7" />
<line x1="200.10" y1="414.50" x2="252.80" y2="414.50" stroke="#b4b4b4" stroke-width="0.8" />
<polygon points="200.10,414.50 204.40,413.70 204.40,415.30" fill="#3c3c3c"/>
<polygon points="252.80,414.50 248.50,415.30 248.50,413.70" fill="#3c3c3c"/>
<text x="214.90" y="412.00" font-size="15.1" textLength="22.40" lengthAdjust="spacingAndGlyphs" fill="#111" stroke="#111" stroke-width="0.3" font-weight="normal">860</text>
<line x1="90.60" y1="249.60" x2="90.60" y2="319.00" stroke="#b4b4b4" stroke-width="0.7" />
<line x1="269.50" y1="249.60" x2="269.50" y2="287.00" stroke="#b4b4b4" stroke-width="0.7" />
<line x1="90.60" y1="252.00" x2="269.50" y2="252.00" stroke="#b4b4b4" stroke-width="0.8" />
<polygon points="90.60,252.00 94.90,251.20 94.90,252.80" fill="#3c3c3c"/>
<polygon points="269.50,252.00 265.20,252.80 265.20,251.20" fill="#3c3c3c"/>
<text x="166.20" y="250.40" font-size="15.5" textLength="27.80" lengthAdjust="spacingAndGlyphs" fill="#111" stroke="#111" stroke-width="0.3" font-weight="normal">3010</text>
<line x1="95.60" y1="270.20" x2="95.60" y2="287.00" stroke="#b4b4b4" stroke-width="0.7" />
<line x1="95.60" y1="272.40" x2="269.50" y2="272.40" stroke="#b4b4b4" stroke-width="0.8" />
<polygon points="95.60,272.40 99.90,271.60 99.90,273.20" fill="#3c3c3c"/>
<polygon points="269.50,272.40 265.20,273.20 265.20,271.60" fill="#3c3c3c"/>
<text x="166.90" y="270.60" font-size="15.3" textLength="30.80" lengthAdjust="spacingAndGlyphs" fill="#111" stroke="#111" stroke-width="0.3" font-weight="normal">2930</text>
<line x1="269.50" y1="287.20" x2="292.20" y2="287.20" stroke="#b4b4b4" stroke-width="0.7" />
<line x1="269.50" y1="382.70" x2="293.50" y2="382.70" stroke="#b4b4b4" stroke-width="0.7" />
<line x1="290.20" y1="287.20" x2="290.20" y2="382.70" stroke="#b4b4b4" stroke-width="0.8" />
<polygon points="290.20,287.20 291.00,291.50 289.40,291.50" fill="#3c3c3c"/>
<polygon points="290.20,382.70 289.40,378.40 291.00,378.40" fill="#3c3c3c"/>
<text x="287.90" y="349.00" font-size="15.3" textLength="28.40" lengthAdjust="spacingAndGlyphs" transform="rotate(-90 287.90 349.00)" fill="#111" stroke="#111" stroke-width="0.3" font-weight="normal">1660</text>
<text x="506.80" y="283.60" font-size="16.3" textLength="10.40" lengthAdjust="spacingAndGlyphs" fill="#111" stroke="#111" stroke-width="0.3" font-weight="normal">А</text>
<text x="535.60" y="283.60" font-size="16.3" textLength="37.20" lengthAdjust="spacingAndGlyphs" fill="#111" stroke="#111" stroke-width="0.3" font-weight="normal">(1:10)</text>
<line x1="443.20" y1="310.20" x2="591.00" y2="310.20" stroke="#858585" stroke-width="0.8" />
<line x1="443.20" y1="310.20" x2="443.20" y2="356.80" stroke="#858585" stroke-width="0.8" />
<line x1="591.00" y1="310.20" x2="591.00" y2="356.80" stroke="#858585" stroke-width="0.8" />
<line x1="443.20" y1="356.80" x2="591.00" y2="356.80" stroke="#858585" stroke-width="0.8" />
<line x1="447.40" y1="315.60" x2="622.60" y2="315.60" stroke="#a4a4a4" stroke-width="0.7" />
<line x1="447.40" y1="351.80" x2="622.60" y2="351.80" stroke="#a4a4a4" stroke-width="0.7" />
<line x1="447.40" y1="315.60" x2="447.40" y2="390.50" stroke="#a4a4a4" stroke-width="0.7" />
<line x1="586.80" y1="315.60" x2="586.80" y2="390.50" stroke="#a4a4a4" stroke-width="0.7" />
<line x1="446.00" y1="333.80" x2="600.00" y2="333.80" stroke="#d8d8d8" stroke-width="0.8" />
<line x1="517.00" y1="306.00" x2="517.00" y2="362.00" stroke="#d8d8d8" stroke-width="0.8" />
<line x1="621.60" y1="315.60" x2="621.60" y2="351.80" stroke="#b4b4b4" stroke-width="0.8" />
<polygon points="621.60,315.60 622.40,319.90 620.80,319.90" fill="#3c3c3c"/>
<polygon points="621.60,351.80 620.80,347.50 622.40,347.50" fill="#3c3c3c"/>
<text x="620.30" y="344.60" font-size="15.5" textLength="22.40" lengthAdjust="spacingAndGlyphs" transform="rotate(-90 620.30 344.60)" fill="#111" stroke="#111" stroke-width="0.3" font-weight="normal">250</text>
<line x1="447.40" y1="388.20" x2="586.80" y2="388.20" stroke="#b4b4b4" stroke-width="0.8" />
<polygon points="447.40,388.20 451.70,387.40 451.70,389.00" fill="#3c3c3c"/>
<polygon points="586.80,388.20 582.50,389.00 582.50,387.40" fill="#3c3c3c"/>
<text x="504.00" y="385.90" font-size="15.1" textLength="26.00" lengthAdjust="spacingAndGlyphs" fill="#111" stroke="#111" stroke-width="0.3" font-weight="normal">1010</text>
<text x="376.30" y="326.60" font-size="15.9" textLength="44.60" lengthAdjust="spacingAndGlyphs" font-style="italic" fill="#111" stroke="#111" stroke-width="0.3" font-weight="normal">+2,345</text>
<line x1="387.50" y1="328.40" x2="421.00" y2="328.40" stroke="#888" stroke-width="0.7" />
<path d="M420.9,330.2 L423.6,333.5 L426.3,330.6" stroke="#222" stroke-width="1.0" fill="none" />
<line x1="414.70" y1="333.80" x2="446.00" y2="333.80" stroke="#aaa" stroke-width="0.8" />
</svg>
</body></html>
